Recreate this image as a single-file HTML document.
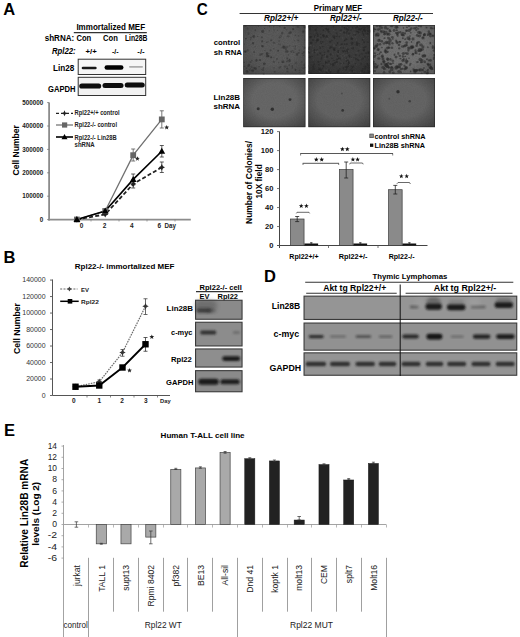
<!DOCTYPE html>
<html><head><meta charset="utf-8"><style>
html,body{margin:0;padding:0;background:#fff;width:520px;height:637px;overflow:hidden}
svg{display:block;font-family:"Liberation Sans",sans-serif}
</style></head><body>
<svg width="520" height="637" viewBox="0 0 520 637">
<defs>
<radialGradient id="vig" cx="0.5" cy="0.45" r="0.7"><stop offset="0.5" stop-color="#000" stop-opacity="0"/><stop offset="1" stop-color="#000" stop-opacity="0.6"/></radialGradient>
<filter id="noise" x="0" y="0" width="100%" height="100%"><feTurbulence type="fractalNoise" baseFrequency="0.9" numOctaves="2" seed="3"/><feColorMatrix type="matrix" values="0 0 0 0 0  0 0 0 0 0  0 0 0 0 0  1.5 0 0 0 -0.5"/></filter>
<filter id="b1" x="-50%" y="-50%" width="200%" height="200%"><feGaussianBlur stdDeviation="0.1"/></filter><filter id="b2" x="-50%" y="-50%" width="200%" height="200%"><feGaussianBlur stdDeviation="0.2"/></filter><filter id="b3" x="-50%" y="-50%" width="200%" height="200%"><feGaussianBlur stdDeviation="0.3"/></filter><filter id="b4" x="-50%" y="-50%" width="200%" height="200%"><feGaussianBlur stdDeviation="0.4"/></filter><filter id="b5" x="-50%" y="-50%" width="200%" height="200%"><feGaussianBlur stdDeviation="0.5"/></filter><filter id="b6" x="-50%" y="-50%" width="200%" height="200%"><feGaussianBlur stdDeviation="0.6"/></filter><filter id="b7" x="-50%" y="-50%" width="200%" height="200%"><feGaussianBlur stdDeviation="0.7"/></filter><filter id="b8" x="-50%" y="-50%" width="200%" height="200%"><feGaussianBlur stdDeviation="0.8"/></filter><filter id="b9" x="-50%" y="-50%" width="200%" height="200%"><feGaussianBlur stdDeviation="0.9"/></filter><filter id="b10" x="-50%" y="-50%" width="200%" height="200%"><feGaussianBlur stdDeviation="1.0"/></filter><filter id="b11" x="-50%" y="-50%" width="200%" height="200%"><feGaussianBlur stdDeviation="1.1"/></filter><filter id="b12" x="-50%" y="-50%" width="200%" height="200%"><feGaussianBlur stdDeviation="1.2"/></filter><filter id="b13" x="-50%" y="-50%" width="200%" height="200%"><feGaussianBlur stdDeviation="1.3"/></filter><filter id="b14" x="-50%" y="-50%" width="200%" height="200%"><feGaussianBlur stdDeviation="1.4"/></filter><filter id="b15" x="-50%" y="-50%" width="200%" height="200%"><feGaussianBlur stdDeviation="1.5"/></filter><filter id="b16" x="-50%" y="-50%" width="200%" height="200%"><feGaussianBlur stdDeviation="1.6"/></filter><filter id="b17" x="-50%" y="-50%" width="200%" height="200%"><feGaussianBlur stdDeviation="1.7"/></filter><filter id="b18" x="-50%" y="-50%" width="200%" height="200%"><feGaussianBlur stdDeviation="1.8"/></filter><filter id="b19" x="-50%" y="-50%" width="200%" height="200%"><feGaussianBlur stdDeviation="1.9"/></filter><filter id="b20" x="-50%" y="-50%" width="200%" height="200%"><feGaussianBlur stdDeviation="2.0"/></filter><filter id="b21" x="-50%" y="-50%" width="200%" height="200%"><feGaussianBlur stdDeviation="2.1"/></filter><filter id="b22" x="-50%" y="-50%" width="200%" height="200%"><feGaussianBlur stdDeviation="2.2"/></filter><filter id="b23" x="-50%" y="-50%" width="200%" height="200%"><feGaussianBlur stdDeviation="2.3"/></filter><filter id="b24" x="-50%" y="-50%" width="200%" height="200%"><feGaussianBlur stdDeviation="2.4"/></filter><filter id="b25" x="-50%" y="-50%" width="200%" height="200%"><feGaussianBlur stdDeviation="2.5"/></filter><filter id="b26" x="-50%" y="-50%" width="200%" height="200%"><feGaussianBlur stdDeviation="2.6"/></filter><filter id="b27" x="-50%" y="-50%" width="200%" height="200%"><feGaussianBlur stdDeviation="2.7"/></filter><filter id="b28" x="-50%" y="-50%" width="200%" height="200%"><feGaussianBlur stdDeviation="2.8"/></filter><filter id="b29" x="-50%" y="-50%" width="200%" height="200%"><feGaussianBlur stdDeviation="2.9"/></filter><filter id="b30" x="-50%" y="-50%" width="200%" height="200%"><feGaussianBlur stdDeviation="3.0"/></filter>
</defs>
<text x="3.2" y="14.9" font-size="16.5" font-weight="bold" text-anchor="start" fill="#000" >A</text>
<text x="76.4" y="29.8" font-size="8.2" font-weight="bold" text-anchor="start" fill="#000" textLength="68.7" lengthAdjust="spacingAndGlyphs" >Immortalized MEF</text>
<line x1="73.8" y1="32.6" x2="146.8" y2="32.6" stroke="#333" stroke-width="1.2" />
<text x="44.7" y="41.4" font-size="8.2" font-weight="bold" text-anchor="start" fill="#000" textLength="29.6" lengthAdjust="spacingAndGlyphs" >shRNA:</text>
<text x="76.4" y="41.4" font-size="8.2" font-weight="bold" text-anchor="start" fill="#000" textLength="14.8" lengthAdjust="spacingAndGlyphs" >Con</text>
<text x="103" y="41.4" font-size="8.2" font-weight="bold" text-anchor="start" fill="#000" textLength="14.8" lengthAdjust="spacingAndGlyphs" >Con</text>
<text x="125" y="41.4" font-size="8.2" font-weight="bold" text-anchor="start" fill="#000" textLength="22.5" lengthAdjust="spacingAndGlyphs" >Lin28B</text>
<text x="52" y="54.2" font-size="8.2" font-weight="bold" text-anchor="start" fill="#000" font-style="italic" textLength="23.7" lengthAdjust="spacingAndGlyphs" >Rpl22:</text>
<text x="85.5" y="53.8" font-size="7.5" font-weight="bold" text-anchor="start" fill="#000" textLength="11.2" lengthAdjust="spacingAndGlyphs" >+/+</text>
<text x="112" y="53.8" font-size="7.5" font-weight="bold" text-anchor="start" fill="#000" textLength="6.7" lengthAdjust="spacingAndGlyphs" >-/-</text>
<text x="137.3" y="53.8" font-size="7.5" font-weight="bold" text-anchor="start" fill="#000" textLength="7.4" lengthAdjust="spacingAndGlyphs" >-/-</text>
<rect x="78.2" y="59.2" width="67.5" height="15.3" fill="#f6f6f6" stroke="#333" stroke-width="1" />
<rect x="81.70" y="66.70" width="15" height="2.6" rx="1.30" fill="#111" opacity="0.95" filter="url(#b5)"/>
<rect x="104.50" y="65.20" width="19" height="4.6" rx="2.30" fill="#000" opacity="1" filter="url(#b6)"/>
<rect x="129.00" y="65.90" width="14" height="1.8" rx="0.90" fill="#666" opacity="0.5" filter="url(#b6)"/>
<rect x="78.2" y="77.3" width="67.5" height="18.2" fill="#f2f2f2" stroke="#333" stroke-width="1" />
<rect x="79.20" y="83.40" width="22" height="5.2" rx="2.60" fill="#0a0a0a" opacity="1" filter="url(#b5)"/>
<rect x="102.50" y="83.10" width="21" height="5" rx="2.50" fill="#0a0a0a" opacity="1" filter="url(#b5)"/>
<rect x="124.70" y="82.50" width="20" height="5" rx="2.50" fill="#0a0a0a" opacity="1" filter="url(#b5)"/>
<text x="53" y="71.2" font-size="8.2" font-weight="bold" text-anchor="start" fill="#000" textLength="21.3" lengthAdjust="spacingAndGlyphs" >Lin28</text>
<text x="48" y="91.9" font-size="8.2" font-weight="bold" text-anchor="start" fill="#000" textLength="27.5" lengthAdjust="spacingAndGlyphs" >GAPDH</text>
<line x1="49.1" y1="102.5" x2="49.1" y2="220.5" stroke="#8c8c8c" stroke-width="1.8" />
<line x1="48.2" y1="219.6" x2="190.8" y2="219.6" stroke="#8c8c8c" stroke-width="1.8" />
<line x1="47.1" y1="219.6" x2="49.1" y2="219.6" stroke="#777" stroke-width="0.8" />
<text x="43.3" y="221.79999999999998" font-size="6.3" font-weight="bold" text-anchor="end" fill="#222" >0</text>
<line x1="47.1" y1="196.2" x2="49.1" y2="196.2" stroke="#777" stroke-width="0.8" />
<text x="43.3" y="198.39999999999998" font-size="6.3" font-weight="bold" text-anchor="end" fill="#222" >100000</text>
<line x1="47.1" y1="172.8" x2="49.1" y2="172.8" stroke="#777" stroke-width="0.8" />
<text x="43.3" y="175.0" font-size="6.3" font-weight="bold" text-anchor="end" fill="#222" >200000</text>
<line x1="47.1" y1="149.4" x2="49.1" y2="149.4" stroke="#777" stroke-width="0.8" />
<text x="43.3" y="151.6" font-size="6.3" font-weight="bold" text-anchor="end" fill="#222" >300000</text>
<line x1="47.1" y1="126.0" x2="49.1" y2="126.0" stroke="#777" stroke-width="0.8" />
<text x="43.3" y="128.2" font-size="6.3" font-weight="bold" text-anchor="end" fill="#222" >400000</text>
<line x1="47.1" y1="102.6" x2="49.1" y2="102.6" stroke="#777" stroke-width="0.8" />
<text x="43.3" y="104.8" font-size="6.3" font-weight="bold" text-anchor="end" fill="#222" >500000</text>
<line x1="91" y1="219.6" x2="91" y2="221.6" stroke="#777" stroke-width="0.6" />
<line x1="119" y1="219.6" x2="119" y2="221.6" stroke="#777" stroke-width="0.6" />
<line x1="147" y1="219.6" x2="147" y2="221.6" stroke="#777" stroke-width="0.6" />
<line x1="175" y1="219.6" x2="175" y2="221.6" stroke="#777" stroke-width="0.6" />
<text x="81.5" y="228.2" font-size="6.5" font-weight="bold" text-anchor="middle" fill="#222" >0</text>
<text x="104.6" y="228.2" font-size="6.5" font-weight="bold" text-anchor="middle" fill="#222" >2</text>
<text x="131.7" y="228.2" font-size="6.5" font-weight="bold" text-anchor="middle" fill="#222" >4</text>
<text x="159.4" y="228.2" font-size="6.5" font-weight="bold" text-anchor="middle" fill="#222" >6</text>
<text x="164.6" y="228.2" font-size="6.5" font-weight="bold" text-anchor="start" fill="#222" textLength="11.4" lengthAdjust="spacingAndGlyphs" >Day</text>
<text x="19.2" y="150.3" font-size="9.6" font-weight="bold" text-anchor="middle" fill="#000" textLength="50.5" lengthAdjust="spacingAndGlyphs" transform="rotate(-90 19.2 150.3)" >Cell Number</text>
<line x1="161.8" y1="110.8" x2="161.8" y2="128" stroke="#555" stroke-width="0.8" />
<line x1="159.8" y1="110.8" x2="163.8" y2="110.8" stroke="#555" stroke-width="0.8" />
<line x1="159.8" y1="128" x2="163.8" y2="128" stroke="#555" stroke-width="0.8" />
<line x1="133.2" y1="149" x2="133.2" y2="161" stroke="#555" stroke-width="0.8" />
<line x1="131.2" y1="149" x2="135.2" y2="149" stroke="#555" stroke-width="0.8" />
<line x1="131.2" y1="161" x2="135.2" y2="161" stroke="#555" stroke-width="0.8" />
<line x1="161.8" y1="145.5" x2="161.8" y2="157" stroke="#333" stroke-width="0.8" />
<line x1="159.8" y1="145.5" x2="163.8" y2="145.5" stroke="#333" stroke-width="0.8" />
<line x1="159.8" y1="157" x2="163.8" y2="157" stroke="#333" stroke-width="0.8" />
<line x1="133.2" y1="174" x2="133.2" y2="185" stroke="#333" stroke-width="0.8" />
<line x1="131.2" y1="174" x2="135.2" y2="174" stroke="#333" stroke-width="0.8" />
<line x1="131.2" y1="185" x2="135.2" y2="185" stroke="#333" stroke-width="0.8" />
<line x1="161.8" y1="162" x2="161.8" y2="172.5" stroke="#333" stroke-width="0.8" />
<line x1="159.8" y1="162" x2="163.8" y2="162" stroke="#333" stroke-width="0.8" />
<line x1="159.8" y1="172.5" x2="163.8" y2="172.5" stroke="#333" stroke-width="0.8" />
<line x1="133.2" y1="180" x2="133.2" y2="188" stroke="#333" stroke-width="0.8" />
<line x1="131.2" y1="180" x2="135.2" y2="180" stroke="#333" stroke-width="0.8" />
<line x1="131.2" y1="188" x2="135.2" y2="188" stroke="#333" stroke-width="0.8" />
<polyline points="76.9,219.5 105.2,214.4 133.2,184 161.8,167.3" fill="none" stroke="#222" stroke-width="1.8" stroke-dasharray="4,2.2"/>
<polyline points="76.9,219.5 105.2,211 133.2,155.2 161.8,119.4" fill="none" stroke="#707070" stroke-width="1.3" />
<polyline points="76.9,219.5 105.2,211 133.2,179.4 161.8,151.2" fill="none" stroke="#000" stroke-width="1.6" />
<polygon points="76.9,216.3 78.0,218.4 80.10000000000001,219.5 78.0,220.6 76.9,222.7 75.80000000000001,220.6 73.7,219.5 75.80000000000001,218.4" fill="#222"/>
<polygon points="105.2,211.20000000000002 106.3,213.3 108.4,214.4 106.3,215.5 105.2,217.6 104.10000000000001,215.5 102.0,214.4 104.10000000000001,213.3" fill="#222"/>
<polygon points="133.2,180.8 134.29999999999998,182.9 136.39999999999998,184 134.29999999999998,185.1 133.2,187.2 132.1,185.1 130.0,184 132.1,182.9" fill="#222"/>
<polygon points="161.8,164.10000000000002 162.9,166.20000000000002 165.0,167.3 162.9,168.4 161.8,170.5 160.70000000000002,168.4 158.60000000000002,167.3 160.70000000000002,166.20000000000002" fill="#222"/>
<rect x="74.0" y="216.6" width="5.8" height="5.8" fill="#666" stroke="none" stroke-width="1" />
<rect x="102.3" y="208.1" width="5.8" height="5.8" fill="#666" stroke="none" stroke-width="1" />
<rect x="130.29999999999998" y="152.29999999999998" width="5.8" height="5.8" fill="#666" stroke="none" stroke-width="1" />
<rect x="158.9" y="116.5" width="5.8" height="5.8" fill="#666" stroke="none" stroke-width="1" />
<polygon points="76.9,216.1 80.30000000000001,222.1 73.5,222.1" fill="#000"/>
<polygon points="105.2,207.6 108.60000000000001,213.6 101.8,213.6" fill="#000"/>
<polygon points="133.2,176.0 136.6,182.0 129.79999999999998,182.0" fill="#000"/>
<polygon points="161.8,147.79999999999998 165.20000000000002,153.79999999999998 158.4,153.79999999999998" fill="#000"/>
<polygon points="166.70,124.90 167.34,126.62 169.17,126.70 167.74,127.84 168.23,129.60 166.70,128.59 165.17,129.60 165.66,127.84 164.23,126.70 166.06,126.62" fill="#222"/>
<polygon points="137.40,156.20 138.02,157.85 139.78,157.93 138.40,159.02 138.87,160.72 137.40,159.75 135.93,160.72 136.40,159.02 135.02,157.93 136.78,157.85" fill="#222"/>
<line x1="56" y1="113.3" x2="73" y2="113.3" stroke="#222" stroke-width="1.2" stroke-dasharray="3,2"/>
<polygon points="64.5,110.3 65.4,112.4 67.5,113.3 65.4,114.2 64.5,116.3 63.6,114.2 61.5,113.3 63.6,112.4" fill="#222"/>
<text x="74.6" y="115" font-size="6.6" font-weight="bold" text-anchor="start" fill="#222" textLength="45" lengthAdjust="spacingAndGlyphs" >Rpl22+/+ control</text>
<line x1="56" y1="125" x2="73" y2="125" stroke="#777" stroke-width="1.3" />
<rect x="62" y="122.4" width="5.2" height="5.2" fill="#666" stroke="none" stroke-width="1" />
<text x="74.6" y="127.3" font-size="6.6" font-weight="bold" text-anchor="start" fill="#222" textLength="42.4" lengthAdjust="spacingAndGlyphs" >Rpl22-/- control</text>
<line x1="56" y1="137" x2="73" y2="137" stroke="#000" stroke-width="1.6" />
<polygon points="64.5,134 67.5,139.2 61.5,139.2" fill="#000"/>
<text x="74.6" y="139.6" font-size="6.6" font-weight="bold" text-anchor="start" fill="#222" textLength="42" lengthAdjust="spacingAndGlyphs" >Rpl22-/- Lin28B</text>
<text x="74.6" y="147.3" font-size="6.6" font-weight="bold" text-anchor="start" fill="#222" textLength="20" lengthAdjust="spacingAndGlyphs" >shRNA</text>
<text x="3.5" y="263.4" font-size="16.5" font-weight="bold" text-anchor="start" fill="#000" >B</text>
<text x="74.8" y="269" font-size="7.8" font-weight="bold" text-anchor="start" fill="#000" textLength="99.6" lengthAdjust="spacingAndGlyphs" >Rpl22-/- immortalized MEF</text>
<line x1="52.5" y1="279.5" x2="52.5" y2="395.5" stroke="#555" stroke-width="1" />
<line x1="52.5" y1="395.5" x2="170" y2="395.5" stroke="#555" stroke-width="1" />
<line x1="50.0" y1="395.5" x2="52.5" y2="395.5" stroke="#555" stroke-width="0.9" />
<text x="45.6" y="397.7" font-size="6.4" font-weight="normal" text-anchor="end" fill="#333" textLength="3.87" lengthAdjust="spacingAndGlyphs" >0</text>
<line x1="50.0" y1="379.01" x2="52.5" y2="379.01" stroke="#555" stroke-width="0.9" />
<text x="45.6" y="381.21" font-size="6.4" font-weight="normal" text-anchor="end" fill="#333" textLength="19.35" lengthAdjust="spacingAndGlyphs" >20000</text>
<line x1="50.0" y1="362.52" x2="52.5" y2="362.52" stroke="#555" stroke-width="0.9" />
<text x="45.6" y="364.71999999999997" font-size="6.4" font-weight="normal" text-anchor="end" fill="#333" textLength="19.35" lengthAdjust="spacingAndGlyphs" >40000</text>
<line x1="50.0" y1="346.03" x2="52.5" y2="346.03" stroke="#555" stroke-width="0.9" />
<text x="45.6" y="348.22999999999996" font-size="6.4" font-weight="normal" text-anchor="end" fill="#333" textLength="19.35" lengthAdjust="spacingAndGlyphs" >60000</text>
<line x1="50.0" y1="329.54" x2="52.5" y2="329.54" stroke="#555" stroke-width="0.9" />
<text x="45.6" y="331.74" font-size="6.4" font-weight="normal" text-anchor="end" fill="#333" textLength="19.35" lengthAdjust="spacingAndGlyphs" >80000</text>
<line x1="50.0" y1="313.05" x2="52.5" y2="313.05" stroke="#555" stroke-width="0.9" />
<text x="45.6" y="315.25" font-size="6.4" font-weight="normal" text-anchor="end" fill="#333" textLength="23.22" lengthAdjust="spacingAndGlyphs" >100000</text>
<line x1="50.0" y1="296.56" x2="52.5" y2="296.56" stroke="#555" stroke-width="0.9" />
<text x="45.6" y="298.76" font-size="6.4" font-weight="normal" text-anchor="end" fill="#333" textLength="23.22" lengthAdjust="spacingAndGlyphs" >120000</text>
<line x1="50.0" y1="280.07" x2="52.5" y2="280.07" stroke="#555" stroke-width="0.9" />
<text x="45.6" y="282.27" font-size="6.4" font-weight="normal" text-anchor="end" fill="#333" textLength="23.22" lengthAdjust="spacingAndGlyphs" >140000</text>
<line x1="87" y1="395.5" x2="87" y2="397.5" stroke="#555" stroke-width="0.7" />
<line x1="110.5" y1="395.5" x2="110.5" y2="397.5" stroke="#555" stroke-width="0.7" />
<line x1="134" y1="395.5" x2="134" y2="397.5" stroke="#555" stroke-width="0.7" />
<line x1="157.5" y1="395.5" x2="157.5" y2="397.5" stroke="#555" stroke-width="0.7" />
<text x="73.9" y="402.6" font-size="6.5" font-weight="bold" text-anchor="middle" fill="#222" >0</text>
<text x="99.2" y="402.6" font-size="6.5" font-weight="bold" text-anchor="middle" fill="#222" >1</text>
<text x="122.1" y="402.6" font-size="6.5" font-weight="bold" text-anchor="middle" fill="#222" >2</text>
<text x="145.8" y="402.6" font-size="6.5" font-weight="bold" text-anchor="middle" fill="#222" >3</text>
<text x="160" y="402.6" font-size="6.2" font-weight="bold" text-anchor="start" fill="#222" textLength="10.6" lengthAdjust="spacingAndGlyphs" >Day</text>
<text x="20.5" y="328.6" font-size="9.2" font-weight="bold" text-anchor="middle" fill="#000" textLength="50.8" lengthAdjust="spacingAndGlyphs" transform="rotate(-90 20.5 328.6)" >Cell Number</text>
<line x1="145.5" y1="298.75" x2="145.5" y2="314.5" stroke="#444" stroke-width="0.8" />
<line x1="143.5" y1="298.75" x2="147.5" y2="298.75" stroke="#444" stroke-width="0.8" />
<line x1="143.5" y1="314.5" x2="147.5" y2="314.5" stroke="#444" stroke-width="0.8" />
<line x1="122.5" y1="349.5" x2="122.5" y2="356.25" stroke="#444" stroke-width="0.8" />
<line x1="120.5" y1="349.5" x2="124.5" y2="349.5" stroke="#444" stroke-width="0.8" />
<line x1="120.5" y1="356.25" x2="124.5" y2="356.25" stroke="#444" stroke-width="0.8" />
<line x1="145.5" y1="337.5" x2="145.5" y2="351.25" stroke="#333" stroke-width="0.8" />
<line x1="143.5" y1="337.5" x2="147.5" y2="337.5" stroke="#333" stroke-width="0.8" />
<line x1="143.5" y1="351.25" x2="147.5" y2="351.25" stroke="#333" stroke-width="0.8" />
<line x1="99.25" y1="380" x2="99.25" y2="383.5" stroke="#666" stroke-width="0.8" />
<line x1="97.25" y1="380" x2="101.25" y2="380" stroke="#666" stroke-width="0.8" />
<line x1="97.25" y1="383.5" x2="101.25" y2="383.5" stroke="#666" stroke-width="0.8" />
<polyline points="75.5,386.75 99.25,381.75 122.5,352.5 145.5,306.25" fill="none" stroke="#6a6a6a" stroke-width="1.2" stroke-dasharray="1.6,1"/>
<polyline points="75.5,386.75 99.25,385.5 122.5,367.5 145.5,344.25" fill="none" stroke="#000" stroke-width="1.8" />
<polygon points="75.5,383.55 76.6,385.65 78.7,386.75 76.6,387.85 75.5,389.95 74.4,387.85 72.3,386.75 74.4,385.65" fill="#333"/>
<polygon points="99.25,378.55 100.35,380.65 102.45,381.75 100.35,382.85 99.25,384.95 98.15,382.85 96.05,381.75 98.15,380.65" fill="#333"/>
<polygon points="122.5,349.3 123.6,351.4 125.7,352.5 123.6,353.6 122.5,355.7 121.4,353.6 119.3,352.5 121.4,351.4" fill="#333"/>
<polygon points="145.5,303.05 146.6,305.15 148.7,306.25 146.6,307.35 145.5,309.45 144.4,307.35 142.3,306.25 144.4,305.15" fill="#333"/>
<rect x="72.3" y="383.55" width="6.4" height="6.4" fill="#000" stroke="none" stroke-width="1" />
<rect x="96.05" y="382.3" width="6.4" height="6.4" fill="#000" stroke="none" stroke-width="1" />
<rect x="119.3" y="364.3" width="6.4" height="6.4" fill="#000" stroke="none" stroke-width="1" />
<rect x="142.3" y="341.05" width="6.4" height="6.4" fill="#000" stroke="none" stroke-width="1" />
<polygon points="151.80,334.40 152.44,336.12 154.27,336.20 152.84,337.34 153.33,339.10 151.80,338.09 150.27,339.10 150.76,337.34 149.33,336.20 151.16,336.12" fill="#222"/>
<polygon points="129.50,367.90 130.14,369.62 131.97,369.70 130.54,370.84 131.03,372.60 129.50,371.59 127.97,372.60 128.46,370.84 127.03,369.70 128.86,369.62" fill="#222"/>
<line x1="60.2" y1="289" x2="77.5" y2="289" stroke="#666" stroke-width="1.0" stroke-dasharray="2,1.3"/>
<polygon points="69.4,286.6 70.3,288.1 71.8,289 70.3,289.9 69.4,291.4 68.5,289.9 67,289 68.5,288.1" fill="#444"/>
<text x="81" y="291.9" font-size="6.2" font-weight="bold" text-anchor="start" fill="#222" textLength="8" lengthAdjust="spacingAndGlyphs" >EV</text>
<line x1="60.2" y1="301.3" x2="78.7" y2="301.3" stroke="#000" stroke-width="1.5" />
<rect x="67.7" y="299" width="4.6" height="4.6" fill="#000" stroke="none" stroke-width="1" />
<text x="81" y="303.8" font-size="6.1" font-weight="bold" text-anchor="start" fill="#222" textLength="17.8" lengthAdjust="spacingAndGlyphs" >Rpl22</text>
<text x="199.6" y="290.2" font-size="7.6" font-weight="bold" text-anchor="start" fill="#000" textLength="42.2" lengthAdjust="spacingAndGlyphs" >Rpl22-/- cell</text>
<line x1="196" y1="291.6" x2="243" y2="291.6" stroke="#333" stroke-width="1.3" />
<text x="199.6" y="299" font-size="7.6" font-weight="bold" text-anchor="start" fill="#000" textLength="9.9" lengthAdjust="spacingAndGlyphs" >EV</text>
<text x="217.6" y="299" font-size="7.6" font-weight="bold" text-anchor="start" fill="#000" textLength="20.4" lengthAdjust="spacingAndGlyphs" >Rpl22</text>
<rect x="195.55" y="300.25" width="46.5" height="19.0" fill="#8a8a8a" stroke="#3a3a3a" stroke-width="1.1" />
<rect x="195.00" y="300.00" width="22" height="11" rx="5.50" fill="#3a3a3a" opacity="0.35" filter="url(#b20)"/>
<rect x="196.50" y="308.40" width="15" height="4.2" rx="2.10" fill="#1e1e1e" opacity="0.75" filter="url(#b15)"/>
<rect x="206.00" y="309.05" width="10" height="3.5" rx="1.75" fill="#333" opacity="0.35" filter="url(#b15)"/>
<rect x="195.55" y="322.25" width="46.5" height="23.7" fill="#8c8c8c" stroke="#3a3a3a" stroke-width="1.1" />
<rect x="200.20" y="330.40" width="16" height="4" rx="2.00" fill="#222" opacity="0.85" filter="url(#b9)"/>
<rect x="232.90" y="330.90" width="7" height="3" rx="1.50" fill="#444" opacity="0.4" filter="url(#b12)"/>
<rect x="195.55" y="348.95" width="46.5" height="18.099999999999998" fill="#8e8e8e" stroke="#3a3a3a" stroke-width="1.1" />
<rect x="222.20" y="356.25" width="18" height="4.7" rx="2.35" fill="#151515" opacity="0.95" filter="url(#b8)"/>
<rect x="195.55" y="370.65000000000003" width="46.5" height="21.099999999999998" fill="#8a8a8a" stroke="#3a3a3a" stroke-width="1.1" />
<rect x="198.25" y="378.80" width="20.5" height="6" rx="3.00" fill="#131313" opacity="0.95" filter="url(#b8)"/>
<rect x="220.30" y="379.30" width="19.4" height="5" rx="2.50" fill="#181818" opacity="0.92" filter="url(#b8)"/>
<text x="166.6" y="310.8" font-size="7.6" font-weight="bold" text-anchor="start" fill="#000" textLength="26.4" lengthAdjust="spacingAndGlyphs" >Lin28B</text>
<text x="171" y="335.3" font-size="7.6" font-weight="bold" text-anchor="start" fill="#000" textLength="21.5" lengthAdjust="spacingAndGlyphs" >c-myc</text>
<text x="171" y="362.1" font-size="7.6" font-weight="bold" text-anchor="start" fill="#000" textLength="20.9" lengthAdjust="spacingAndGlyphs" >Rpl22</text>
<text x="166" y="384.8" font-size="7.6" font-weight="bold" text-anchor="start" fill="#000" textLength="27.4" lengthAdjust="spacingAndGlyphs" >GAPDH</text>
<text x="196.8" y="14.7" font-size="16.5" font-weight="bold" text-anchor="start" fill="#000" textLength="11" lengthAdjust="spacingAndGlyphs" >C</text>
<text x="313.8" y="10.8" font-size="8.5" font-weight="bold" text-anchor="start" fill="#000" textLength="48.4" lengthAdjust="spacingAndGlyphs" >Primary MEF</text>
<line x1="239.6" y1="13.5" x2="433" y2="13.5" stroke="#333" stroke-width="1.1" />
<text x="264" y="20.9" font-size="8.2" font-weight="bold" text-anchor="start" fill="#000" font-style="italic" textLength="34.3" lengthAdjust="spacingAndGlyphs" >Rpl22+/+</text>
<text x="330" y="20.9" font-size="8.2" font-weight="bold" text-anchor="start" fill="#000" font-style="italic" textLength="31.8" lengthAdjust="spacingAndGlyphs" >Rpl22+/-</text>
<text x="392.9" y="20.9" font-size="8.2" font-weight="bold" text-anchor="start" fill="#000" font-style="italic" textLength="29.7" lengthAdjust="spacingAndGlyphs" >Rpl22-/-</text>
<text x="213.75" y="45.4" font-size="7.9" font-weight="bold" text-anchor="start" fill="#000" textLength="26.3" lengthAdjust="spacingAndGlyphs" >control</text>
<text x="213.75" y="54.8" font-size="7.9" font-weight="bold" text-anchor="start" fill="#000" textLength="28.2" lengthAdjust="spacingAndGlyphs" >sh RNA</text>
<text x="213.5" y="100.2" font-size="7.9" font-weight="bold" text-anchor="start" fill="#000" textLength="26.5" lengthAdjust="spacingAndGlyphs" >Lin28B</text>
<text x="213.5" y="109.2" font-size="7.9" font-weight="bold" text-anchor="start" fill="#000" textLength="26.5" lengthAdjust="spacingAndGlyphs" >shRNA</text>
<clipPath id="clip1"><rect x="243.2" y="25" width="62.3" height="49.5"/></clipPath>
<g clip-path="url(#clip1)">
<rect x="243.2" y="25" width="62.3" height="49.5" fill="#5a5a5a" stroke="none" stroke-width="1" />
<rect x="243.2" y="25" width="62.3" height="49.5" fill="url(#vig)" opacity="0.35"/>
<ellipse cx="251.6" cy="66.9" rx="0.95" ry="1.06" fill="#363636" opacity="0.5" filter="url(#b6)"/>
<ellipse cx="271.2" cy="57.3" rx="0.90" ry="0.87" fill="#363636" opacity="0.5" filter="url(#b6)"/>
<ellipse cx="295.3" cy="46.4" rx="0.85" ry="1.03" fill="#363636" opacity="0.5" filter="url(#b6)"/>
<ellipse cx="288.2" cy="36.3" rx="1.35" ry="0.95" fill="#363636" opacity="0.5" filter="url(#b6)"/>
<ellipse cx="244.8" cy="51.8" rx="1.11" ry="1.03" fill="#363636" opacity="0.5" filter="url(#b6)"/>
<ellipse cx="269.5" cy="26.4" rx="0.71" ry="0.73" fill="#363636" opacity="0.5" filter="url(#b6)"/>
<ellipse cx="257.7" cy="36.4" rx="0.72" ry="0.67" fill="#363636" opacity="0.5" filter="url(#b6)"/>
<ellipse cx="244.5" cy="66.5" rx="0.99" ry="0.82" fill="#363636" opacity="0.5" filter="url(#b6)"/>
<ellipse cx="305.0" cy="67.6" rx="0.63" ry="0.73" fill="#363636" opacity="0.5" filter="url(#b6)"/>
<ellipse cx="287.5" cy="71.4" rx="0.97" ry="0.91" fill="#363636" opacity="0.5" filter="url(#b6)"/>
<ellipse cx="262.1" cy="54.1" rx="1.29" ry="1.13" fill="#363636" opacity="0.5" filter="url(#b6)"/>
<ellipse cx="279.9" cy="26.7" rx="0.83" ry="0.72" fill="#363636" opacity="0.5" filter="url(#b6)"/>
<ellipse cx="254.0" cy="52.2" rx="1.09" ry="0.97" fill="#363636" opacity="0.5" filter="url(#b6)"/>
<ellipse cx="270.5" cy="50.2" rx="1.08" ry="1.02" fill="#363636" opacity="0.5" filter="url(#b6)"/>
<ellipse cx="273.7" cy="26.5" rx="0.68" ry="0.75" fill="#363636" opacity="0.5" filter="url(#b6)"/>
<ellipse cx="280.2" cy="44.5" rx="0.70" ry="0.84" fill="#363636" opacity="0.5" filter="url(#b6)"/>
<ellipse cx="291.2" cy="51.7" rx="1.00" ry="1.12" fill="#363636" opacity="0.5" filter="url(#b6)"/>
<ellipse cx="302.5" cy="53.6" rx="0.79" ry="0.89" fill="#363636" opacity="0.5" filter="url(#b6)"/>
<ellipse cx="302.8" cy="25.3" rx="1.21" ry="1.24" fill="#363636" opacity="0.5" filter="url(#b6)"/>
<ellipse cx="289.3" cy="65.1" rx="0.93" ry="0.88" fill="#363636" opacity="0.5" filter="url(#b6)"/>
<ellipse cx="246.7" cy="68.1" rx="0.83" ry="0.94" fill="#363636" opacity="0.5" filter="url(#b6)"/>
<ellipse cx="273.4" cy="42.7" rx="0.82" ry="0.85" fill="#363636" opacity="0.5" filter="url(#b6)"/>
<ellipse cx="281.4" cy="47.7" rx="0.55" ry="0.54" fill="#363636" opacity="0.5" filter="url(#b6)"/>
<ellipse cx="279.6" cy="67.6" rx="1.21" ry="1.22" fill="#363636" opacity="0.5" filter="url(#b6)"/>
<ellipse cx="259.1" cy="66.7" rx="0.84" ry="0.81" fill="#363636" opacity="0.5" filter="url(#b6)"/>
<ellipse cx="244.1" cy="62.4" rx="0.63" ry="0.79" fill="#363636" opacity="0.5" filter="url(#b6)"/>
<ellipse cx="264.7" cy="28.4" rx="0.70" ry="0.60" fill="#363636" opacity="0.5" filter="url(#b6)"/>
<ellipse cx="260.2" cy="60.2" rx="0.81" ry="0.86" fill="#363636" opacity="0.5" filter="url(#b6)"/>
<ellipse cx="244.7" cy="44.1" rx="0.75" ry="0.72" fill="#363636" opacity="0.5" filter="url(#b6)"/>
<ellipse cx="299.3" cy="50.3" rx="0.76" ry="0.82" fill="#363636" opacity="0.5" filter="url(#b6)"/>
<ellipse cx="244.5" cy="25.9" rx="0.75" ry="0.59" fill="#363636" opacity="0.5" filter="url(#b6)"/>
<ellipse cx="287.1" cy="58.6" rx="0.82" ry="1.10" fill="#363636" opacity="0.5" filter="url(#b6)"/>
<ellipse cx="292.9" cy="50.6" rx="0.78" ry="0.70" fill="#363636" opacity="0.5" filter="url(#b6)"/>
<ellipse cx="279.1" cy="40.9" rx="0.81" ry="0.90" fill="#363636" opacity="0.5" filter="url(#b6)"/>
<ellipse cx="303.5" cy="68.3" rx="0.90" ry="0.72" fill="#363636" opacity="0.5" filter="url(#b6)"/>
<ellipse cx="301.7" cy="61.8" rx="0.77" ry="0.68" fill="#363636" opacity="0.5" filter="url(#b6)"/>
<ellipse cx="297.9" cy="26.9" rx="1.29" ry="1.12" fill="#363636" opacity="0.5" filter="url(#b6)"/>
<ellipse cx="253.9" cy="68.0" rx="1.28" ry="1.19" fill="#363636" opacity="0.5" filter="url(#b6)"/>
<ellipse cx="266.7" cy="42.2" rx="0.77" ry="0.70" fill="#363636" opacity="0.5" filter="url(#b6)"/>
<ellipse cx="255.3" cy="30.2" rx="0.92" ry="1.00" fill="#363636" opacity="0.5" filter="url(#b6)"/>
<ellipse cx="263.5" cy="68.1" rx="0.92" ry="1.00" fill="#363636" opacity="0.5" filter="url(#b6)"/>
<ellipse cx="263.6" cy="73.9" rx="1.00" ry="0.95" fill="#363636" opacity="0.5" filter="url(#b6)"/>
<ellipse cx="285.2" cy="66.5" rx="1.09" ry="1.34" fill="#363636" opacity="0.5" filter="url(#b6)"/>
<ellipse cx="286.0" cy="49.0" rx="1.06" ry="1.30" fill="#363636" opacity="0.5" filter="url(#b6)"/>
<ellipse cx="248.5" cy="33.4" rx="1.01" ry="1.27" fill="#363636" opacity="0.5" filter="url(#b6)"/>
<ellipse cx="280.6" cy="66.6" rx="0.77" ry="0.75" fill="#363636" opacity="0.5" filter="url(#b6)"/>
<ellipse cx="297.2" cy="54.9" rx="1.35" ry="1.00" fill="#363636" opacity="0.5" filter="url(#b6)"/>
<ellipse cx="277.5" cy="30.2" rx="0.52" ry="0.71" fill="#363636" opacity="0.5" filter="url(#b6)"/>
<ellipse cx="292.3" cy="66.0" rx="0.84" ry="0.90" fill="#363636" opacity="0.5" filter="url(#b6)"/>
<ellipse cx="266.8" cy="53.3" rx="0.61" ry="0.67" fill="#363636" opacity="0.5" filter="url(#b6)"/>
<ellipse cx="298.7" cy="52.9" rx="1.14" ry="1.05" fill="#363636" opacity="0.5" filter="url(#b6)"/>
<ellipse cx="292.2" cy="66.0" rx="0.65" ry="0.51" fill="#363636" opacity="0.5" filter="url(#b6)"/>
<ellipse cx="250.4" cy="68.8" rx="0.56" ry="0.75" fill="#363636" opacity="0.5" filter="url(#b6)"/>
<ellipse cx="269.4" cy="30.7" rx="0.63" ry="0.77" fill="#363636" opacity="0.5" filter="url(#b6)"/>
<ellipse cx="249.6" cy="70.1" rx="0.98" ry="0.96" fill="#363636" opacity="0.5" filter="url(#b6)"/>
<ellipse cx="261.5" cy="37.5" rx="0.74" ry="0.94" fill="#363636" opacity="0.5" filter="url(#b6)"/>
<ellipse cx="245.7" cy="25.5" rx="1.09" ry="1.24" fill="#363636" opacity="0.5" filter="url(#b6)"/>
<ellipse cx="271.2" cy="40.5" rx="0.74" ry="0.76" fill="#363636" opacity="0.5" filter="url(#b6)"/>
<ellipse cx="303.6" cy="30.5" rx="0.76" ry="0.87" fill="#363636" opacity="0.5" filter="url(#b6)"/>
<ellipse cx="277.0" cy="59.1" rx="0.90" ry="1.01" fill="#363636" opacity="0.5" filter="url(#b6)"/>
<ellipse cx="262.3" cy="37.2" rx="0.59" ry="0.77" fill="#363636" opacity="0.5" filter="url(#b6)"/>
<ellipse cx="271.1" cy="57.3" rx="1.16" ry="0.94" fill="#363636" opacity="0.5" filter="url(#b6)"/>
<ellipse cx="262.3" cy="41.2" rx="0.90" ry="0.91" fill="#363636" opacity="0.5" filter="url(#b6)"/>
<ellipse cx="262.1" cy="41.5" rx="0.96" ry="0.96" fill="#363636" opacity="0.5" filter="url(#b6)"/>
<ellipse cx="258.5" cy="26.0" rx="0.62" ry="0.76" fill="#363636" opacity="0.5" filter="url(#b6)"/>
<ellipse cx="247.6" cy="28.7" rx="0.90" ry="1.10" fill="#363636" opacity="0.5" filter="url(#b6)"/>
<ellipse cx="273.9" cy="67.7" rx="0.69" ry="0.77" fill="#363636" opacity="0.5" filter="url(#b6)"/>
<ellipse cx="248.0" cy="72.0" rx="0.78" ry="0.84" fill="#363636" opacity="0.5" filter="url(#b6)"/>
<ellipse cx="294.4" cy="40.8" rx="0.67" ry="0.78" fill="#363636" opacity="0.5" filter="url(#b6)"/>
<ellipse cx="261.5" cy="69.2" rx="0.80" ry="0.56" fill="#363636" opacity="0.5" filter="url(#b6)"/>
<ellipse cx="262.9" cy="69.7" rx="1.26" ry="1.23" fill="#363636" opacity="0.5" filter="url(#b6)"/>
<ellipse cx="289.7" cy="59.1" rx="0.69" ry="0.61" fill="#363636" opacity="0.5" filter="url(#b6)"/>
<ellipse cx="287.7" cy="58.1" rx="0.62" ry="0.89" fill="#363636" opacity="0.5" filter="url(#b6)"/>
<ellipse cx="293.6" cy="52.2" rx="1.05" ry="0.91" fill="#363636" opacity="0.5" filter="url(#b6)"/>
<ellipse cx="267.9" cy="41.8" rx="0.61" ry="0.80" fill="#363636" opacity="0.5" filter="url(#b6)"/>
<ellipse cx="269.2" cy="53.2" rx="0.60" ry="0.55" fill="#363636" opacity="0.5" filter="url(#b6)"/>
<ellipse cx="251.0" cy="37.8" rx="1.05" ry="1.05" fill="#363636" opacity="0.5" filter="url(#b6)"/>
<ellipse cx="281.4" cy="36.6" rx="0.61" ry="0.60" fill="#363636" opacity="0.5" filter="url(#b6)"/>
<ellipse cx="283.6" cy="46.7" rx="1.11" ry="0.91" fill="#363636" opacity="0.5" filter="url(#b6)"/>
<ellipse cx="274.0" cy="48.7" rx="0.71" ry="0.75" fill="#363636" opacity="0.5" filter="url(#b6)"/>
<ellipse cx="299.7" cy="70.4" rx="0.81" ry="0.63" fill="#363636" opacity="0.5" filter="url(#b6)"/>
<ellipse cx="247.7" cy="50.3" rx="0.97" ry="1.25" fill="#363636" opacity="0.5" filter="url(#b6)"/>
<ellipse cx="298.2" cy="40.4" rx="1.16" ry="0.96" fill="#363636" opacity="0.5" filter="url(#b6)"/>
<ellipse cx="286.9" cy="61.5" rx="1.09" ry="1.11" fill="#363636" opacity="0.5" filter="url(#b6)"/>
<ellipse cx="303.0" cy="53.3" rx="0.64" ry="0.63" fill="#363636" opacity="0.5" filter="url(#b6)"/>
<ellipse cx="278.7" cy="62.5" rx="0.68" ry="0.69" fill="#363636" opacity="0.5" filter="url(#b6)"/>
<ellipse cx="264.9" cy="50.5" rx="0.76" ry="0.57" fill="#363636" opacity="0.5" filter="url(#b6)"/>
<ellipse cx="304.3" cy="65.0" rx="0.89" ry="1.14" fill="#363636" opacity="0.5" filter="url(#b6)"/>
<ellipse cx="303.0" cy="31.9" rx="1.21" ry="1.13" fill="#363636" opacity="0.5" filter="url(#b6)"/>
<ellipse cx="286.8" cy="47.0" rx="1.37" ry="1.10" fill="#363636" opacity="0.5" filter="url(#b6)"/>
<ellipse cx="293.2" cy="46.4" rx="0.65" ry="0.59" fill="#363636" opacity="0.5" filter="url(#b6)"/>
<ellipse cx="299.8" cy="72.5" rx="0.70" ry="0.65" fill="#363636" opacity="0.5" filter="url(#b6)"/>
<ellipse cx="250.6" cy="39.6" rx="0.82" ry="0.60" fill="#363636" opacity="0.5" filter="url(#b6)"/>
<ellipse cx="255.0" cy="46.7" rx="0.64" ry="0.64" fill="#363636" opacity="0.5" filter="url(#b6)"/>
<ellipse cx="295.2" cy="35.2" rx="0.78" ry="0.70" fill="#363636" opacity="0.5" filter="url(#b6)"/>
<ellipse cx="279.7" cy="37.4" rx="1.13" ry="1.13" fill="#363636" opacity="0.5" filter="url(#b6)"/>
<ellipse cx="303.9" cy="52.0" rx="1.02" ry="0.99" fill="#363636" opacity="0.5" filter="url(#b6)"/>
<ellipse cx="278.7" cy="44.0" rx="0.65" ry="0.87" fill="#363636" opacity="0.5" filter="url(#b6)"/>
<ellipse cx="250.6" cy="62.0" rx="1.10" ry="1.02" fill="#363636" opacity="0.5" filter="url(#b6)"/>
<ellipse cx="303.9" cy="31.8" rx="0.93" ry="0.83" fill="#363636" opacity="0.5" filter="url(#b6)"/>
<ellipse cx="274.5" cy="42.7" rx="0.73" ry="0.90" fill="#363636" opacity="0.5" filter="url(#b6)"/>
<ellipse cx="271.2" cy="40.1" rx="0.93" ry="0.90" fill="#363636" opacity="0.5" filter="url(#b6)"/>
<ellipse cx="273.9" cy="57.1" rx="0.73" ry="0.66" fill="#363636" opacity="0.5" filter="url(#b6)"/>
<ellipse cx="260.5" cy="54.6" rx="1.28" ry="1.13" fill="#363636" opacity="0.5" filter="url(#b6)"/>
<ellipse cx="304.7" cy="47.8" rx="1.06" ry="1.21" fill="#363636" opacity="0.5" filter="url(#b6)"/>
<ellipse cx="304.7" cy="40.1" rx="0.74" ry="0.71" fill="#363636" opacity="0.5" filter="url(#b6)"/>
<ellipse cx="265.6" cy="25.2" rx="0.81" ry="0.80" fill="#363636" opacity="0.5" filter="url(#b6)"/>
<ellipse cx="296.9" cy="53.9" rx="1.21" ry="1.14" fill="#363636" opacity="0.5" filter="url(#b6)"/>
<ellipse cx="273.9" cy="61.9" rx="1.04" ry="1.04" fill="#363636" opacity="0.5" filter="url(#b6)"/>
<ellipse cx="268.6" cy="56.1" rx="1.15" ry="1.09" fill="#363636" opacity="0.5" filter="url(#b6)"/>
<ellipse cx="295.9" cy="63.0" rx="1.14" ry="1.02" fill="#363636" opacity="0.5" filter="url(#b6)"/>
<ellipse cx="259.7" cy="60.0" rx="1.14" ry="0.97" fill="#363636" opacity="0.5" filter="url(#b6)"/>
<ellipse cx="295.1" cy="49.0" rx="0.72" ry="0.88" fill="#363636" opacity="0.5" filter="url(#b6)"/>
<ellipse cx="289.6" cy="45.9" rx="0.86" ry="0.66" fill="#363636" opacity="0.5" filter="url(#b6)"/>
<ellipse cx="274.8" cy="71.8" rx="0.97" ry="1.09" fill="#363636" opacity="0.5" filter="url(#b6)"/>
<ellipse cx="280.9" cy="35.3" rx="0.84" ry="0.66" fill="#363636" opacity="0.5" filter="url(#b6)"/>
<ellipse cx="247.9" cy="66.1" rx="0.87" ry="0.92" fill="#363636" opacity="0.5" filter="url(#b6)"/>
<ellipse cx="289.1" cy="33.3" rx="1.08" ry="1.12" fill="#363636" opacity="0.5" filter="url(#b6)"/>
<ellipse cx="260.0" cy="55.2" rx="0.76" ry="0.64" fill="#363636" opacity="0.5" filter="url(#b6)"/>
<ellipse cx="292.4" cy="67.9" rx="0.71" ry="0.95" fill="#363636" opacity="0.5" filter="url(#b6)"/>
<ellipse cx="287.2" cy="66.8" rx="0.72" ry="0.65" fill="#363636" opacity="0.5" filter="url(#b6)"/>
<ellipse cx="262.9" cy="46.4" rx="1.18" ry="0.93" fill="#363636" opacity="0.5" filter="url(#b6)"/>
<ellipse cx="282.2" cy="33.2" rx="1.16" ry="1.38" fill="#363636" opacity="0.5" filter="url(#b6)"/>
<ellipse cx="288.6" cy="55.0" rx="0.77" ry="0.65" fill="#363636" opacity="0.5" filter="url(#b6)"/>
<ellipse cx="251.8" cy="60.4" rx="0.90" ry="0.73" fill="#363636" opacity="0.5" filter="url(#b6)"/>
<ellipse cx="287.9" cy="60.6" rx="0.66" ry="0.75" fill="#363636" opacity="0.5" filter="url(#b6)"/>
<ellipse cx="273.9" cy="29.9" rx="0.59" ry="0.74" fill="#363636" opacity="0.5" filter="url(#b6)"/>
<ellipse cx="298.6" cy="35.7" rx="0.67" ry="0.70" fill="#363636" opacity="0.5" filter="url(#b6)"/>
<ellipse cx="303.3" cy="55.4" rx="0.91" ry="0.68" fill="#363636" opacity="0.5" filter="url(#b6)"/>
<ellipse cx="286.4" cy="29.7" rx="0.84" ry="0.80" fill="#363636" opacity="0.5" filter="url(#b6)"/>
<ellipse cx="253.7" cy="36.5" rx="1.39" ry="1.46" fill="#2a2a2a" opacity="0.55" filter="url(#b6)"/>
<ellipse cx="256.4" cy="60.4" rx="1.21" ry="1.36" fill="#2a2a2a" opacity="0.55" filter="url(#b6)"/>
<ellipse cx="305.2" cy="27.3" rx="1.60" ry="1.30" fill="#2a2a2a" opacity="0.55" filter="url(#b6)"/>
<ellipse cx="267.1" cy="53.7" rx="1.40" ry="1.68" fill="#2a2a2a" opacity="0.55" filter="url(#b6)"/>
<ellipse cx="290.5" cy="32.5" rx="1.17" ry="1.25" fill="#2a2a2a" opacity="0.55" filter="url(#b6)"/>
<ellipse cx="284.6" cy="27.8" rx="1.01" ry="1.17" fill="#2a2a2a" opacity="0.55" filter="url(#b6)"/>
<ellipse cx="295.5" cy="69.9" rx="0.84" ry="1.16" fill="#2a2a2a" opacity="0.55" filter="url(#b6)"/>
<ellipse cx="245.9" cy="38.5" rx="0.89" ry="0.86" fill="#2a2a2a" opacity="0.55" filter="url(#b6)"/>
<ellipse cx="282.9" cy="61.9" rx="1.53" ry="1.43" fill="#2a2a2a" opacity="0.55" filter="url(#b6)"/>
<ellipse cx="267.5" cy="56.2" rx="1.57" ry="1.33" fill="#2a2a2a" opacity="0.55" filter="url(#b6)"/>
<ellipse cx="246.9" cy="71.3" rx="1.22" ry="1.35" fill="#2a2a2a" opacity="0.55" filter="url(#b6)"/>
<ellipse cx="278.1" cy="50.8" rx="0.97" ry="0.99" fill="#2a2a2a" opacity="0.55" filter="url(#b6)"/>
<ellipse cx="255.6" cy="68.6" rx="1.29" ry="1.32" fill="#2a2a2a" opacity="0.55" filter="url(#b6)"/>
<ellipse cx="289.5" cy="60.7" rx="1.24" ry="1.64" fill="#2a2a2a" opacity="0.55" filter="url(#b6)"/>
<ellipse cx="252.6" cy="70.5" rx="1.63" ry="1.17" fill="#2a2a2a" opacity="0.55" filter="url(#b6)"/>
<ellipse cx="248.9" cy="65.2" rx="1.17" ry="1.47" fill="#2a2a2a" opacity="0.55" filter="url(#b6)"/>
<ellipse cx="245.7" cy="51.3" rx="1.04" ry="1.17" fill="#2a2a2a" opacity="0.55" filter="url(#b6)"/>
<ellipse cx="287.3" cy="68.7" rx="1.02" ry="0.85" fill="#2a2a2a" opacity="0.55" filter="url(#b6)"/>
<ellipse cx="293.1" cy="29.2" rx="0.97" ry="1.11" fill="#2a2a2a" opacity="0.55" filter="url(#b6)"/>
<ellipse cx="262.7" cy="31.4" rx="1.57" ry="1.60" fill="#2a2a2a" opacity="0.55" filter="url(#b6)"/>
<ellipse cx="262.1" cy="46.0" rx="1.15" ry="1.05" fill="#2a2a2a" opacity="0.55" filter="url(#b6)"/>
<ellipse cx="264.3" cy="63.8" rx="1.53" ry="1.24" fill="#2a2a2a" opacity="0.55" filter="url(#b6)"/>
<ellipse cx="283.9" cy="47.2" rx="1.63" ry="1.69" fill="#2a2a2a" opacity="0.55" filter="url(#b6)"/>
<ellipse cx="286.9" cy="51.5" rx="1.64" ry="1.33" fill="#2a2a2a" opacity="0.55" filter="url(#b6)"/>
<ellipse cx="253.0" cy="43.3" rx="1.06" ry="1.18" fill="#2a2a2a" opacity="0.55" filter="url(#b6)"/>
<rect x="243.2" y="25" width="62.3" height="49.5" filter="url(#noise)" opacity="0.12"/>
</g>
<rect x="243.6" y="25.4" width="61.5" height="48.7" fill="none" stroke="#222" stroke-width="0.8" opacity="0.7"/>
<clipPath id="clip2"><rect x="308.3" y="25" width="62" height="49"/></clipPath>
<g clip-path="url(#clip2)">
<rect x="308.3" y="25" width="62" height="49" fill="#3d3d3d" stroke="none" stroke-width="1" />
<rect x="308.3" y="25" width="62" height="49" fill="url(#vig)" opacity="0.35"/>
<ellipse cx="367.6" cy="71.4" rx="0.53" ry="0.73" fill="#262626" opacity="0.55" filter="url(#b6)"/>
<ellipse cx="353.9" cy="57.8" rx="0.85" ry="0.85" fill="#262626" opacity="0.55" filter="url(#b6)"/>
<ellipse cx="344.3" cy="32.8" rx="0.86" ry="0.98" fill="#262626" opacity="0.55" filter="url(#b6)"/>
<ellipse cx="370.0" cy="71.5" rx="0.96" ry="0.89" fill="#262626" opacity="0.55" filter="url(#b6)"/>
<ellipse cx="310.5" cy="26.3" rx="0.86" ry="0.88" fill="#262626" opacity="0.55" filter="url(#b6)"/>
<ellipse cx="363.6" cy="50.8" rx="0.89" ry="0.80" fill="#262626" opacity="0.55" filter="url(#b6)"/>
<ellipse cx="328.5" cy="31.7" rx="1.15" ry="1.02" fill="#262626" opacity="0.55" filter="url(#b6)"/>
<ellipse cx="319.6" cy="68.8" rx="1.27" ry="1.35" fill="#262626" opacity="0.55" filter="url(#b6)"/>
<ellipse cx="355.6" cy="63.7" rx="1.01" ry="1.00" fill="#262626" opacity="0.55" filter="url(#b6)"/>
<ellipse cx="318.3" cy="61.9" rx="1.08" ry="1.11" fill="#262626" opacity="0.55" filter="url(#b6)"/>
<ellipse cx="338.7" cy="70.3" rx="1.08" ry="0.90" fill="#262626" opacity="0.55" filter="url(#b6)"/>
<ellipse cx="363.0" cy="69.1" rx="0.95" ry="1.08" fill="#262626" opacity="0.55" filter="url(#b6)"/>
<ellipse cx="353.2" cy="48.8" rx="0.70" ry="0.82" fill="#262626" opacity="0.55" filter="url(#b6)"/>
<ellipse cx="318.6" cy="69.5" rx="0.92" ry="0.73" fill="#262626" opacity="0.55" filter="url(#b6)"/>
<ellipse cx="367.7" cy="59.6" rx="0.96" ry="1.01" fill="#262626" opacity="0.55" filter="url(#b6)"/>
<ellipse cx="344.8" cy="40.3" rx="0.75" ry="0.87" fill="#262626" opacity="0.55" filter="url(#b6)"/>
<ellipse cx="346.9" cy="28.7" rx="1.28" ry="1.37" fill="#262626" opacity="0.55" filter="url(#b6)"/>
<ellipse cx="320.2" cy="61.5" rx="0.68" ry="0.58" fill="#262626" opacity="0.55" filter="url(#b6)"/>
<ellipse cx="322.4" cy="67.9" rx="0.68" ry="0.77" fill="#262626" opacity="0.55" filter="url(#b6)"/>
<ellipse cx="323.5" cy="35.3" rx="1.18" ry="1.32" fill="#262626" opacity="0.55" filter="url(#b6)"/>
<ellipse cx="310.3" cy="42.8" rx="0.77" ry="0.60" fill="#262626" opacity="0.55" filter="url(#b6)"/>
<ellipse cx="367.5" cy="26.2" rx="0.90" ry="1.00" fill="#262626" opacity="0.55" filter="url(#b6)"/>
<ellipse cx="358.7" cy="32.7" rx="0.78" ry="0.70" fill="#262626" opacity="0.55" filter="url(#b6)"/>
<ellipse cx="311.0" cy="73.5" rx="0.58" ry="0.66" fill="#262626" opacity="0.55" filter="url(#b6)"/>
<ellipse cx="346.4" cy="61.4" rx="0.63" ry="0.55" fill="#262626" opacity="0.55" filter="url(#b6)"/>
<ellipse cx="336.1" cy="62.5" rx="1.30" ry="1.23" fill="#262626" opacity="0.55" filter="url(#b6)"/>
<ellipse cx="361.8" cy="59.6" rx="0.83" ry="0.99" fill="#262626" opacity="0.55" filter="url(#b6)"/>
<ellipse cx="327.9" cy="30.0" rx="1.05" ry="0.78" fill="#262626" opacity="0.55" filter="url(#b6)"/>
<ellipse cx="344.6" cy="44.3" rx="0.82" ry="1.14" fill="#262626" opacity="0.55" filter="url(#b6)"/>
<ellipse cx="324.4" cy="54.7" rx="0.72" ry="0.91" fill="#262626" opacity="0.55" filter="url(#b6)"/>
<ellipse cx="317.0" cy="27.8" rx="0.54" ry="0.52" fill="#262626" opacity="0.55" filter="url(#b6)"/>
<ellipse cx="347.7" cy="49.9" rx="1.51" ry="1.54" fill="#262626" opacity="0.55" filter="url(#b6)"/>
<ellipse cx="322.7" cy="46.8" rx="0.80" ry="0.81" fill="#262626" opacity="0.55" filter="url(#b6)"/>
<ellipse cx="357.9" cy="59.8" rx="0.76" ry="0.79" fill="#262626" opacity="0.55" filter="url(#b6)"/>
<ellipse cx="308.6" cy="26.7" rx="0.75" ry="0.97" fill="#262626" opacity="0.55" filter="url(#b6)"/>
<ellipse cx="323.2" cy="29.9" rx="0.65" ry="0.65" fill="#262626" opacity="0.55" filter="url(#b6)"/>
<ellipse cx="340.6" cy="47.8" rx="0.86" ry="0.72" fill="#262626" opacity="0.55" filter="url(#b6)"/>
<ellipse cx="364.5" cy="72.2" rx="1.08" ry="1.12" fill="#262626" opacity="0.55" filter="url(#b6)"/>
<ellipse cx="344.3" cy="27.5" rx="0.90" ry="0.78" fill="#262626" opacity="0.55" filter="url(#b6)"/>
<ellipse cx="314.1" cy="64.3" rx="0.86" ry="1.00" fill="#262626" opacity="0.55" filter="url(#b6)"/>
<ellipse cx="346.2" cy="39.2" rx="1.22" ry="1.04" fill="#262626" opacity="0.55" filter="url(#b6)"/>
<ellipse cx="350.8" cy="30.0" rx="0.93" ry="0.87" fill="#262626" opacity="0.55" filter="url(#b6)"/>
<ellipse cx="309.3" cy="47.1" rx="0.88" ry="0.78" fill="#262626" opacity="0.55" filter="url(#b6)"/>
<ellipse cx="344.8" cy="28.6" rx="0.76" ry="0.94" fill="#262626" opacity="0.55" filter="url(#b6)"/>
<ellipse cx="313.0" cy="62.0" rx="0.76" ry="0.70" fill="#262626" opacity="0.55" filter="url(#b6)"/>
<ellipse cx="337.0" cy="61.9" rx="0.74" ry="0.74" fill="#262626" opacity="0.55" filter="url(#b6)"/>
<ellipse cx="313.3" cy="66.7" rx="1.24" ry="1.13" fill="#262626" opacity="0.55" filter="url(#b6)"/>
<ellipse cx="309.8" cy="57.3" rx="1.25" ry="1.14" fill="#262626" opacity="0.55" filter="url(#b6)"/>
<ellipse cx="330.5" cy="47.4" rx="1.05" ry="1.17" fill="#262626" opacity="0.55" filter="url(#b6)"/>
<ellipse cx="337.9" cy="71.8" rx="1.36" ry="1.32" fill="#262626" opacity="0.55" filter="url(#b6)"/>
<ellipse cx="326.7" cy="36.3" rx="0.85" ry="0.91" fill="#262626" opacity="0.55" filter="url(#b6)"/>
<ellipse cx="350.4" cy="70.0" rx="1.14" ry="0.85" fill="#262626" opacity="0.55" filter="url(#b6)"/>
<ellipse cx="330.4" cy="73.9" rx="0.68" ry="0.58" fill="#262626" opacity="0.55" filter="url(#b6)"/>
<ellipse cx="313.6" cy="68.9" rx="1.37" ry="1.10" fill="#262626" opacity="0.55" filter="url(#b6)"/>
<ellipse cx="326.7" cy="36.4" rx="1.15" ry="1.04" fill="#262626" opacity="0.55" filter="url(#b6)"/>
<ellipse cx="340.8" cy="30.5" rx="1.15" ry="1.08" fill="#262626" opacity="0.55" filter="url(#b6)"/>
<ellipse cx="314.3" cy="50.3" rx="0.99" ry="1.27" fill="#262626" opacity="0.55" filter="url(#b6)"/>
<ellipse cx="336.9" cy="59.5" rx="1.06" ry="0.98" fill="#262626" opacity="0.55" filter="url(#b6)"/>
<ellipse cx="343.9" cy="32.1" rx="0.74" ry="0.94" fill="#262626" opacity="0.55" filter="url(#b6)"/>
<ellipse cx="363.0" cy="33.8" rx="0.95" ry="0.92" fill="#262626" opacity="0.55" filter="url(#b6)"/>
<ellipse cx="352.3" cy="70.9" rx="1.08" ry="1.30" fill="#262626" opacity="0.55" filter="url(#b6)"/>
<ellipse cx="328.8" cy="61.5" rx="1.17" ry="1.21" fill="#262626" opacity="0.55" filter="url(#b6)"/>
<ellipse cx="322.2" cy="55.4" rx="0.94" ry="1.05" fill="#262626" opacity="0.55" filter="url(#b6)"/>
<ellipse cx="347.7" cy="25.6" rx="1.00" ry="1.07" fill="#262626" opacity="0.55" filter="url(#b6)"/>
<ellipse cx="348.6" cy="65.0" rx="0.72" ry="0.67" fill="#262626" opacity="0.55" filter="url(#b6)"/>
<ellipse cx="345.9" cy="69.4" rx="1.02" ry="1.37" fill="#262626" opacity="0.55" filter="url(#b6)"/>
<ellipse cx="355.9" cy="34.8" rx="1.16" ry="0.98" fill="#262626" opacity="0.55" filter="url(#b6)"/>
<ellipse cx="358.2" cy="31.8" rx="1.00" ry="0.93" fill="#262626" opacity="0.55" filter="url(#b6)"/>
<ellipse cx="343.4" cy="47.9" rx="0.88" ry="0.62" fill="#262626" opacity="0.55" filter="url(#b6)"/>
<ellipse cx="308.5" cy="48.8" rx="1.26" ry="1.31" fill="#262626" opacity="0.55" filter="url(#b6)"/>
<ellipse cx="338.4" cy="58.1" rx="0.76" ry="0.84" fill="#262626" opacity="0.55" filter="url(#b6)"/>
<ellipse cx="310.0" cy="28.9" rx="0.98" ry="1.24" fill="#262626" opacity="0.55" filter="url(#b6)"/>
<ellipse cx="356.9" cy="44.8" rx="1.20" ry="1.23" fill="#262626" opacity="0.55" filter="url(#b6)"/>
<ellipse cx="316.7" cy="33.0" rx="0.85" ry="0.80" fill="#262626" opacity="0.55" filter="url(#b6)"/>
<ellipse cx="308.9" cy="52.3" rx="1.21" ry="1.30" fill="#262626" opacity="0.55" filter="url(#b6)"/>
<ellipse cx="332.0" cy="46.7" rx="1.12" ry="1.28" fill="#262626" opacity="0.55" filter="url(#b6)"/>
<ellipse cx="338.3" cy="51.4" rx="1.03" ry="1.40" fill="#262626" opacity="0.55" filter="url(#b6)"/>
<ellipse cx="327.2" cy="56.7" rx="1.23" ry="1.11" fill="#262626" opacity="0.55" filter="url(#b6)"/>
<ellipse cx="360.4" cy="29.6" rx="1.00" ry="1.06" fill="#262626" opacity="0.55" filter="url(#b6)"/>
<ellipse cx="361.1" cy="64.1" rx="0.96" ry="0.93" fill="#262626" opacity="0.55" filter="url(#b6)"/>
<ellipse cx="336.7" cy="36.4" rx="0.94" ry="0.67" fill="#262626" opacity="0.55" filter="url(#b6)"/>
<ellipse cx="359.1" cy="43.6" rx="0.79" ry="0.71" fill="#262626" opacity="0.55" filter="url(#b6)"/>
<ellipse cx="336.7" cy="33.2" rx="0.83" ry="1.05" fill="#262626" opacity="0.55" filter="url(#b6)"/>
<ellipse cx="365.4" cy="46.7" rx="1.23" ry="0.97" fill="#262626" opacity="0.55" filter="url(#b6)"/>
<ellipse cx="314.5" cy="36.7" rx="0.78" ry="0.70" fill="#262626" opacity="0.55" filter="url(#b6)"/>
<ellipse cx="330.4" cy="64.0" rx="0.86" ry="0.80" fill="#262626" opacity="0.55" filter="url(#b6)"/>
<ellipse cx="333.1" cy="65.4" rx="0.97" ry="0.98" fill="#262626" opacity="0.55" filter="url(#b6)"/>
<ellipse cx="339.5" cy="58.8" rx="1.39" ry="1.39" fill="#262626" opacity="0.55" filter="url(#b6)"/>
<ellipse cx="362.2" cy="70.8" rx="1.34" ry="1.03" fill="#262626" opacity="0.55" filter="url(#b6)"/>
<ellipse cx="346.9" cy="57.9" rx="0.82" ry="0.75" fill="#262626" opacity="0.55" filter="url(#b6)"/>
<ellipse cx="367.7" cy="42.3" rx="1.08" ry="0.82" fill="#262626" opacity="0.55" filter="url(#b6)"/>
<ellipse cx="367.9" cy="31.2" rx="0.58" ry="0.58" fill="#262626" opacity="0.55" filter="url(#b6)"/>
<ellipse cx="365.2" cy="68.3" rx="1.10" ry="1.15" fill="#262626" opacity="0.55" filter="url(#b6)"/>
<ellipse cx="323.0" cy="65.8" rx="0.80" ry="0.92" fill="#262626" opacity="0.55" filter="url(#b6)"/>
<ellipse cx="317.6" cy="40.5" rx="1.05" ry="1.07" fill="#262626" opacity="0.55" filter="url(#b6)"/>
<ellipse cx="321.0" cy="37.3" rx="0.80" ry="0.84" fill="#262626" opacity="0.55" filter="url(#b6)"/>
<ellipse cx="323.6" cy="36.8" rx="0.96" ry="0.98" fill="#262626" opacity="0.55" filter="url(#b6)"/>
<ellipse cx="355.9" cy="28.0" rx="0.80" ry="0.68" fill="#262626" opacity="0.55" filter="url(#b6)"/>
<ellipse cx="356.6" cy="31.5" rx="1.10" ry="0.90" fill="#262626" opacity="0.55" filter="url(#b6)"/>
<ellipse cx="355.9" cy="54.9" rx="1.05" ry="0.84" fill="#262626" opacity="0.55" filter="url(#b6)"/>
<ellipse cx="337.7" cy="55.4" rx="0.93" ry="0.85" fill="#262626" opacity="0.55" filter="url(#b6)"/>
<ellipse cx="344.8" cy="51.4" rx="1.54" ry="1.47" fill="#262626" opacity="0.55" filter="url(#b6)"/>
<ellipse cx="336.5" cy="45.2" rx="0.79" ry="0.82" fill="#262626" opacity="0.55" filter="url(#b6)"/>
<ellipse cx="370.0" cy="31.3" rx="1.35" ry="1.46" fill="#262626" opacity="0.55" filter="url(#b6)"/>
<ellipse cx="313.1" cy="40.0" rx="0.93" ry="0.98" fill="#262626" opacity="0.55" filter="url(#b6)"/>
<ellipse cx="330.0" cy="33.5" rx="0.75" ry="0.59" fill="#262626" opacity="0.55" filter="url(#b6)"/>
<ellipse cx="368.5" cy="56.8" rx="0.74" ry="0.57" fill="#262626" opacity="0.55" filter="url(#b6)"/>
<ellipse cx="338.2" cy="52.4" rx="0.70" ry="0.57" fill="#262626" opacity="0.55" filter="url(#b6)"/>
<ellipse cx="320.7" cy="70.0" rx="1.19" ry="1.26" fill="#262626" opacity="0.55" filter="url(#b6)"/>
<ellipse cx="362.6" cy="31.9" rx="0.81" ry="0.80" fill="#262626" opacity="0.55" filter="url(#b6)"/>
<ellipse cx="315.0" cy="35.4" rx="0.56" ry="0.61" fill="#262626" opacity="0.55" filter="url(#b6)"/>
<ellipse cx="346.9" cy="67.1" rx="1.34" ry="1.24" fill="#262626" opacity="0.55" filter="url(#b6)"/>
<ellipse cx="365.2" cy="33.0" rx="0.76" ry="0.71" fill="#262626" opacity="0.55" filter="url(#b6)"/>
<ellipse cx="321.3" cy="43.5" rx="0.79" ry="0.78" fill="#262626" opacity="0.55" filter="url(#b6)"/>
<ellipse cx="333.0" cy="64.1" rx="1.20" ry="1.16" fill="#262626" opacity="0.55" filter="url(#b6)"/>
<ellipse cx="325.9" cy="62.5" rx="1.15" ry="1.40" fill="#262626" opacity="0.55" filter="url(#b6)"/>
<ellipse cx="351.6" cy="57.3" rx="0.63" ry="0.55" fill="#262626" opacity="0.55" filter="url(#b6)"/>
<ellipse cx="320.3" cy="53.4" rx="1.10" ry="1.15" fill="#262626" opacity="0.55" filter="url(#b6)"/>
<ellipse cx="351.9" cy="48.3" rx="0.70" ry="0.72" fill="#262626" opacity="0.55" filter="url(#b6)"/>
<ellipse cx="360.1" cy="54.3" rx="0.55" ry="0.53" fill="#262626" opacity="0.55" filter="url(#b6)"/>
<ellipse cx="347.7" cy="51.7" rx="0.86" ry="0.87" fill="#262626" opacity="0.55" filter="url(#b6)"/>
<ellipse cx="364.1" cy="47.7" rx="0.71" ry="0.91" fill="#262626" opacity="0.55" filter="url(#b6)"/>
<ellipse cx="351.8" cy="38.6" rx="1.27" ry="1.19" fill="#262626" opacity="0.55" filter="url(#b6)"/>
<ellipse cx="334.1" cy="60.3" rx="0.98" ry="0.78" fill="#262626" opacity="0.55" filter="url(#b6)"/>
<ellipse cx="351.8" cy="38.3" rx="1.10" ry="1.15" fill="#262626" opacity="0.55" filter="url(#b6)"/>
<ellipse cx="341.7" cy="44.2" rx="1.13" ry="0.85" fill="#262626" opacity="0.55" filter="url(#b6)"/>
<ellipse cx="356.2" cy="59.0" rx="1.13" ry="1.13" fill="#262626" opacity="0.55" filter="url(#b6)"/>
<ellipse cx="329.7" cy="48.2" rx="0.68" ry="0.77" fill="#262626" opacity="0.55" filter="url(#b6)"/>
<ellipse cx="320.2" cy="48.0" rx="0.93" ry="0.87" fill="#262626" opacity="0.55" filter="url(#b6)"/>
<ellipse cx="345.8" cy="67.1" rx="0.79" ry="0.80" fill="#262626" opacity="0.55" filter="url(#b6)"/>
<ellipse cx="363.2" cy="58.4" rx="0.72" ry="0.93" fill="#262626" opacity="0.55" filter="url(#b6)"/>
<ellipse cx="326.8" cy="25.6" rx="1.06" ry="1.12" fill="#262626" opacity="0.55" filter="url(#b6)"/>
<ellipse cx="328.1" cy="37.5" rx="1.04" ry="1.08" fill="#262626" opacity="0.55" filter="url(#b6)"/>
<ellipse cx="334.3" cy="65.8" rx="0.63" ry="0.52" fill="#262626" opacity="0.55" filter="url(#b6)"/>
<ellipse cx="317.6" cy="54.7" rx="0.71" ry="0.89" fill="#262626" opacity="0.55" filter="url(#b6)"/>
<ellipse cx="365.0" cy="56.6" rx="1.06" ry="1.10" fill="#262626" opacity="0.55" filter="url(#b6)"/>
<ellipse cx="317.7" cy="39.7" rx="1.49" ry="1.12" fill="#262626" opacity="0.55" filter="url(#b6)"/>
<ellipse cx="351.9" cy="67.8" rx="1.10" ry="1.02" fill="#262626" opacity="0.55" filter="url(#b6)"/>
<ellipse cx="322.9" cy="35.4" rx="0.69" ry="0.55" fill="#262626" opacity="0.55" filter="url(#b6)"/>
<ellipse cx="346.8" cy="44.2" rx="1.08" ry="0.87" fill="#262626" opacity="0.55" filter="url(#b6)"/>
<ellipse cx="337.7" cy="43.6" rx="0.67" ry="0.76" fill="#262626" opacity="0.55" filter="url(#b6)"/>
<ellipse cx="359.0" cy="29.4" rx="1.35" ry="1.04" fill="#262626" opacity="0.55" filter="url(#b6)"/>
<ellipse cx="352.1" cy="44.7" rx="0.81" ry="0.96" fill="#262626" opacity="0.55" filter="url(#b6)"/>
<ellipse cx="340.5" cy="63.3" rx="1.09" ry="1.10" fill="#262626" opacity="0.55" filter="url(#b6)"/>
<ellipse cx="322.0" cy="26.2" rx="0.80" ry="0.80" fill="#262626" opacity="0.55" filter="url(#b6)"/>
<ellipse cx="328.2" cy="51.3" rx="1.09" ry="1.21" fill="#262626" opacity="0.55" filter="url(#b6)"/>
<ellipse cx="314.6" cy="52.3" rx="0.71" ry="0.64" fill="#262626" opacity="0.55" filter="url(#b6)"/>
<ellipse cx="317.0" cy="40.2" rx="1.05" ry="1.25" fill="#262626" opacity="0.55" filter="url(#b6)"/>
<ellipse cx="330.3" cy="41.7" rx="1.30" ry="1.05" fill="#262626" opacity="0.55" filter="url(#b6)"/>
<ellipse cx="356.9" cy="42.8" rx="1.33" ry="1.42" fill="#262626" opacity="0.55" filter="url(#b6)"/>
<ellipse cx="363.8" cy="50.0" rx="1.03" ry="1.20" fill="#262626" opacity="0.55" filter="url(#b6)"/>
<ellipse cx="360.2" cy="25.4" rx="1.28" ry="1.16" fill="#262626" opacity="0.55" filter="url(#b6)"/>
<ellipse cx="361.8" cy="28.8" rx="1.02" ry="0.95" fill="#262626" opacity="0.55" filter="url(#b6)"/>
<ellipse cx="334.3" cy="63.7" rx="0.58" ry="0.74" fill="#262626" opacity="0.55" filter="url(#b6)"/>
<ellipse cx="368.2" cy="65.5" rx="0.98" ry="1.24" fill="#262626" opacity="0.55" filter="url(#b6)"/>
<ellipse cx="310.8" cy="37.1" rx="1.33" ry="1.11" fill="#262626" opacity="0.55" filter="url(#b6)"/>
<ellipse cx="364.7" cy="30.4" rx="0.84" ry="0.91" fill="#262626" opacity="0.55" filter="url(#b6)"/>
<ellipse cx="320.1" cy="25.3" rx="0.88" ry="0.81" fill="#262626" opacity="0.55" filter="url(#b6)"/>
<ellipse cx="348.7" cy="27.6" rx="0.97" ry="0.92" fill="#262626" opacity="0.55" filter="url(#b6)"/>
<ellipse cx="365.0" cy="31.2" rx="0.88" ry="0.85" fill="#262626" opacity="0.55" filter="url(#b6)"/>
<ellipse cx="368.7" cy="53.0" rx="0.94" ry="0.94" fill="#262626" opacity="0.55" filter="url(#b6)"/>
<ellipse cx="367.3" cy="64.2" rx="0.91" ry="1.09" fill="#262626" opacity="0.55" filter="url(#b6)"/>
<ellipse cx="316.2" cy="42.2" rx="0.67" ry="0.73" fill="#262626" opacity="0.55" filter="url(#b6)"/>
<ellipse cx="347.8" cy="52.9" rx="0.76" ry="0.76" fill="#262626" opacity="0.55" filter="url(#b6)"/>
<ellipse cx="334.5" cy="38.2" rx="0.83" ry="0.89" fill="#262626" opacity="0.55" filter="url(#b6)"/>
<ellipse cx="359.2" cy="55.5" rx="0.57" ry="0.70" fill="#262626" opacity="0.55" filter="url(#b6)"/>
<ellipse cx="368.6" cy="51.8" rx="1.07" ry="0.90" fill="#262626" opacity="0.55" filter="url(#b6)"/>
<ellipse cx="352.5" cy="42.9" rx="1.17" ry="1.27" fill="#262626" opacity="0.55" filter="url(#b6)"/>
<ellipse cx="342.8" cy="51.2" rx="1.09" ry="1.02" fill="#262626" opacity="0.55" filter="url(#b6)"/>
<ellipse cx="334.3" cy="49.8" rx="1.35" ry="1.30" fill="#262626" opacity="0.55" filter="url(#b6)"/>
<ellipse cx="367.7" cy="30.7" rx="1.07" ry="1.00" fill="#262626" opacity="0.55" filter="url(#b6)"/>
<ellipse cx="368.0" cy="72.4" rx="0.91" ry="0.97" fill="#262626" opacity="0.55" filter="url(#b6)"/>
<ellipse cx="351.5" cy="42.8" rx="1.09" ry="1.00" fill="#262626" opacity="0.55" filter="url(#b6)"/>
<ellipse cx="349.5" cy="56.8" rx="0.89" ry="1.06" fill="#262626" opacity="0.55" filter="url(#b6)"/>
<ellipse cx="358.4" cy="44.9" rx="1.27" ry="1.19" fill="#262626" opacity="0.55" filter="url(#b6)"/>
<ellipse cx="348.4" cy="63.4" rx="1.31" ry="1.31" fill="#262626" opacity="0.55" filter="url(#b6)"/>
<ellipse cx="333.2" cy="27.0" rx="0.78" ry="1.08" fill="#262626" opacity="0.55" filter="url(#b6)"/>
<ellipse cx="330.8" cy="54.6" rx="0.97" ry="1.26" fill="#262626" opacity="0.55" filter="url(#b6)"/>
<ellipse cx="328.5" cy="28.9" rx="0.98" ry="1.19" fill="#262626" opacity="0.55" filter="url(#b6)"/>
<ellipse cx="335.9" cy="29.6" rx="0.50" ry="0.61" fill="#262626" opacity="0.55" filter="url(#b6)"/>
<ellipse cx="352.6" cy="27.5" rx="0.82" ry="0.96" fill="#262626" opacity="0.55" filter="url(#b6)"/>
<ellipse cx="368.5" cy="67.9" rx="1.08" ry="0.93" fill="#262626" opacity="0.55" filter="url(#b6)"/>
<ellipse cx="346.3" cy="33.1" rx="0.92" ry="0.83" fill="#262626" opacity="0.55" filter="url(#b6)"/>
<ellipse cx="353.3" cy="47.8" rx="0.80" ry="0.82" fill="#262626" opacity="0.55" filter="url(#b6)"/>
<ellipse cx="323.3" cy="66.4" rx="1.12" ry="1.15" fill="#262626" opacity="0.55" filter="url(#b6)"/>
<ellipse cx="358.6" cy="60.4" rx="0.78" ry="0.68" fill="#262626" opacity="0.55" filter="url(#b6)"/>
<ellipse cx="361.8" cy="53.8" rx="0.83" ry="0.92" fill="#262626" opacity="0.55" filter="url(#b6)"/>
<ellipse cx="337.6" cy="42.7" rx="0.64" ry="0.78" fill="#262626" opacity="0.55" filter="url(#b6)"/>
<ellipse cx="365.6" cy="66.4" rx="1.15" ry="0.88" fill="#262626" opacity="0.55" filter="url(#b6)"/>
<ellipse cx="321.3" cy="59.5" rx="0.50" ry="0.67" fill="#262626" opacity="0.55" filter="url(#b6)"/>
<ellipse cx="320.5" cy="34.1" rx="0.99" ry="0.71" fill="#262626" opacity="0.55" filter="url(#b6)"/>
<ellipse cx="362.7" cy="39.9" rx="0.99" ry="0.85" fill="#262626" opacity="0.55" filter="url(#b6)"/>
<ellipse cx="367.7" cy="33.6" rx="1.34" ry="1.14" fill="#262626" opacity="0.55" filter="url(#b6)"/>
<ellipse cx="367.8" cy="28.1" rx="0.70" ry="0.58" fill="#262626" opacity="0.55" filter="url(#b6)"/>
<ellipse cx="358.4" cy="50.8" rx="1.06" ry="0.94" fill="#262626" opacity="0.55" filter="url(#b6)"/>
<ellipse cx="363.5" cy="35.2" rx="0.76" ry="0.92" fill="#262626" opacity="0.55" filter="url(#b6)"/>
<ellipse cx="337.1" cy="34.7" rx="0.59" ry="0.70" fill="#262626" opacity="0.55" filter="url(#b6)"/>
<ellipse cx="317.8" cy="36.2" rx="1.09" ry="1.16" fill="#262626" opacity="0.55" filter="url(#b6)"/>
<ellipse cx="348.3" cy="66.6" rx="0.83" ry="0.58" fill="#262626" opacity="0.55" filter="url(#b6)"/>
<ellipse cx="315.7" cy="30.1" rx="1.14" ry="1.34" fill="#262626" opacity="0.55" filter="url(#b6)"/>
<ellipse cx="368.7" cy="71.7" rx="0.97" ry="1.22" fill="#262626" opacity="0.55" filter="url(#b6)"/>
<ellipse cx="353.7" cy="34.6" rx="0.80" ry="0.80" fill="#262626" opacity="0.55" filter="url(#b6)"/>
<ellipse cx="347.9" cy="60.2" rx="1.32" ry="1.03" fill="#262626" opacity="0.55" filter="url(#b6)"/>
<ellipse cx="354.1" cy="73.1" rx="1.07" ry="0.99" fill="#262626" opacity="0.55" filter="url(#b6)"/>
<ellipse cx="312.2" cy="55.6" rx="1.08" ry="1.44" fill="#262626" opacity="0.55" filter="url(#b6)"/>
<ellipse cx="364.0" cy="42.3" rx="1.03" ry="1.10" fill="#262626" opacity="0.55" filter="url(#b6)"/>
<ellipse cx="343.4" cy="68.1" rx="0.81" ry="1.14" fill="#262626" opacity="0.55" filter="url(#b6)"/>
<ellipse cx="343.7" cy="63.2" rx="0.71" ry="0.64" fill="#262626" opacity="0.55" filter="url(#b6)"/>
<ellipse cx="319.9" cy="46.4" rx="0.94" ry="1.01" fill="#262626" opacity="0.55" filter="url(#b6)"/>
<ellipse cx="329.0" cy="70.3" rx="0.99" ry="0.92" fill="#262626" opacity="0.55" filter="url(#b6)"/>
<ellipse cx="367.6" cy="57.2" rx="0.68" ry="0.60" fill="#262626" opacity="0.55" filter="url(#b6)"/>
<ellipse cx="334.4" cy="62.5" rx="0.69" ry="0.77" fill="#262626" opacity="0.55" filter="url(#b6)"/>
<ellipse cx="364.4" cy="29.2" rx="1.29" ry="1.03" fill="#262626" opacity="0.55" filter="url(#b6)"/>
<ellipse cx="349.3" cy="55.4" rx="1.11" ry="1.02" fill="#262626" opacity="0.55" filter="url(#b6)"/>
<ellipse cx="339.5" cy="36.7" rx="0.88" ry="0.77" fill="#262626" opacity="0.55" filter="url(#b6)"/>
<ellipse cx="322.7" cy="41.9" rx="0.90" ry="0.96" fill="#262626" opacity="0.55" filter="url(#b6)"/>
<ellipse cx="324.4" cy="52.2" rx="0.75" ry="0.72" fill="#262626" opacity="0.55" filter="url(#b6)"/>
<ellipse cx="367.8" cy="70.7" rx="1.03" ry="1.02" fill="#262626" opacity="0.55" filter="url(#b6)"/>
<ellipse cx="314.8" cy="39.7" rx="0.72" ry="0.87" fill="#262626" opacity="0.55" filter="url(#b6)"/>
<ellipse cx="351.0" cy="65.9" rx="0.59" ry="0.82" fill="#262626" opacity="0.55" filter="url(#b6)"/>
<ellipse cx="331.9" cy="40.4" rx="0.64" ry="0.64" fill="#262626" opacity="0.55" filter="url(#b6)"/>
<ellipse cx="324.2" cy="36.4" rx="1.08" ry="0.89" fill="#262626" opacity="0.55" filter="url(#b6)"/>
<ellipse cx="334.1" cy="48.7" rx="1.32" ry="1.42" fill="#262626" opacity="0.55" filter="url(#b6)"/>
<ellipse cx="319.0" cy="64.5" rx="0.83" ry="0.81" fill="#262626" opacity="0.55" filter="url(#b6)"/>
<ellipse cx="343.9" cy="40.8" rx="0.52" ry="0.76" fill="#262626" opacity="0.55" filter="url(#b6)"/>
<ellipse cx="363.3" cy="47.5" rx="0.75" ry="0.66" fill="#262626" opacity="0.55" filter="url(#b6)"/>
<ellipse cx="337.5" cy="56.3" rx="0.63" ry="0.80" fill="#262626" opacity="0.55" filter="url(#b6)"/>
<ellipse cx="353.8" cy="73.2" rx="1.07" ry="1.04" fill="#262626" opacity="0.55" filter="url(#b6)"/>
<ellipse cx="339.8" cy="68.7" rx="0.59" ry="0.80" fill="#262626" opacity="0.55" filter="url(#b6)"/>
<ellipse cx="317.1" cy="50.3" rx="1.20" ry="0.99" fill="#262626" opacity="0.55" filter="url(#b6)"/>
<ellipse cx="357.1" cy="27.1" rx="1.15" ry="1.01" fill="#262626" opacity="0.55" filter="url(#b6)"/>
<ellipse cx="327.1" cy="73.9" rx="1.24" ry="1.28" fill="#262626" opacity="0.55" filter="url(#b6)"/>
<ellipse cx="366.3" cy="53.1" rx="1.18" ry="1.06" fill="#262626" opacity="0.55" filter="url(#b6)"/>
<ellipse cx="325.5" cy="37.8" rx="0.65" ry="0.59" fill="#262626" opacity="0.55" filter="url(#b6)"/>
<ellipse cx="364.7" cy="27.5" rx="1.01" ry="1.07" fill="#262626" opacity="0.55" filter="url(#b6)"/>
<ellipse cx="326.4" cy="71.9" rx="1.04" ry="0.92" fill="#262626" opacity="0.55" filter="url(#b6)"/>
<ellipse cx="311.3" cy="43.0" rx="1.25" ry="1.37" fill="#262626" opacity="0.55" filter="url(#b6)"/>
<ellipse cx="362.9" cy="27.3" rx="0.80" ry="0.73" fill="#262626" opacity="0.55" filter="url(#b6)"/>
<ellipse cx="332.0" cy="58.4" rx="0.75" ry="0.64" fill="#262626" opacity="0.55" filter="url(#b6)"/>
<ellipse cx="349.0" cy="33.5" rx="1.12" ry="1.31" fill="#262626" opacity="0.55" filter="url(#b6)"/>
<ellipse cx="368.3" cy="53.5" rx="0.58" ry="0.73" fill="#262626" opacity="0.55" filter="url(#b6)"/>
<ellipse cx="348.7" cy="62.2" rx="1.10" ry="1.09" fill="#262626" opacity="0.55" filter="url(#b6)"/>
<ellipse cx="346.3" cy="53.9" rx="0.54" ry="0.59" fill="#262626" opacity="0.55" filter="url(#b6)"/>
<ellipse cx="353.0" cy="66.5" rx="1.32" ry="0.92" fill="#262626" opacity="0.55" filter="url(#b6)"/>
<ellipse cx="310.1" cy="37.5" rx="0.63" ry="0.72" fill="#262626" opacity="0.55" filter="url(#b6)"/>
<ellipse cx="364.0" cy="30.2" rx="1.14" ry="1.13" fill="#262626" opacity="0.55" filter="url(#b6)"/>
<ellipse cx="333.8" cy="36.6" rx="1.42" ry="1.33" fill="#262626" opacity="0.55" filter="url(#b6)"/>
<ellipse cx="342.0" cy="26.6" rx="0.71" ry="0.71" fill="#262626" opacity="0.55" filter="url(#b6)"/>
<ellipse cx="321.7" cy="57.7" rx="0.94" ry="1.25" fill="#262626" opacity="0.55" filter="url(#b6)"/>
<ellipse cx="308.3" cy="71.8" rx="1.07" ry="0.92" fill="#262626" opacity="0.55" filter="url(#b6)"/>
<ellipse cx="351.2" cy="67.9" rx="0.63" ry="0.83" fill="#262626" opacity="0.55" filter="url(#b6)"/>
<ellipse cx="323.8" cy="30.2" rx="0.83" ry="0.84" fill="#262626" opacity="0.55" filter="url(#b6)"/>
<ellipse cx="325.9" cy="29.1" rx="1.20" ry="1.25" fill="#262626" opacity="0.55" filter="url(#b6)"/>
<ellipse cx="326.4" cy="63.0" rx="1.53" ry="1.04" fill="#262626" opacity="0.55" filter="url(#b6)"/>
<ellipse cx="327.6" cy="29.4" rx="0.99" ry="0.97" fill="#262626" opacity="0.55" filter="url(#b6)"/>
<ellipse cx="330.3" cy="72.2" rx="1.24" ry="1.01" fill="#262626" opacity="0.55" filter="url(#b6)"/>
<ellipse cx="348.3" cy="29.9" rx="1.03" ry="0.87" fill="#262626" opacity="0.55" filter="url(#b6)"/>
<ellipse cx="347.0" cy="31.5" rx="0.96" ry="0.92" fill="#262626" opacity="0.55" filter="url(#b6)"/>
<ellipse cx="317.7" cy="34.3" rx="0.91" ry="0.84" fill="#262626" opacity="0.55" filter="url(#b6)"/>
<ellipse cx="320.8" cy="41.6" rx="0.70" ry="0.85" fill="#262626" opacity="0.55" filter="url(#b6)"/>
<ellipse cx="337.5" cy="41.0" rx="0.58" ry="0.41" fill="#555" opacity="0.35" filter="url(#b6)"/>
<ellipse cx="315.4" cy="39.4" rx="1.05" ry="0.99" fill="#555" opacity="0.35" filter="url(#b6)"/>
<ellipse cx="321.1" cy="66.1" rx="0.44" ry="0.44" fill="#555" opacity="0.35" filter="url(#b6)"/>
<ellipse cx="343.2" cy="54.1" rx="0.96" ry="0.90" fill="#555" opacity="0.35" filter="url(#b6)"/>
<ellipse cx="354.4" cy="33.5" rx="1.12" ry="1.08" fill="#555" opacity="0.35" filter="url(#b6)"/>
<ellipse cx="313.3" cy="60.0" rx="0.77" ry="0.69" fill="#555" opacity="0.35" filter="url(#b6)"/>
<ellipse cx="356.2" cy="64.5" rx="0.81" ry="0.97" fill="#555" opacity="0.35" filter="url(#b6)"/>
<ellipse cx="313.7" cy="58.4" rx="0.41" ry="0.43" fill="#555" opacity="0.35" filter="url(#b6)"/>
<ellipse cx="348.8" cy="73.2" rx="0.78" ry="0.76" fill="#555" opacity="0.35" filter="url(#b6)"/>
<ellipse cx="360.5" cy="72.5" rx="0.85" ry="0.75" fill="#555" opacity="0.35" filter="url(#b6)"/>
<ellipse cx="363.7" cy="38.7" rx="1.01" ry="0.76" fill="#555" opacity="0.35" filter="url(#b6)"/>
<ellipse cx="320.3" cy="45.7" rx="1.05" ry="1.10" fill="#555" opacity="0.35" filter="url(#b6)"/>
<ellipse cx="325.2" cy="55.5" rx="0.89" ry="0.97" fill="#555" opacity="0.35" filter="url(#b6)"/>
<ellipse cx="322.2" cy="67.0" rx="0.72" ry="0.77" fill="#555" opacity="0.35" filter="url(#b6)"/>
<ellipse cx="328.1" cy="64.8" rx="0.71" ry="0.80" fill="#555" opacity="0.35" filter="url(#b6)"/>
<ellipse cx="349.6" cy="59.8" rx="1.05" ry="0.90" fill="#555" opacity="0.35" filter="url(#b6)"/>
<ellipse cx="348.2" cy="67.3" rx="0.56" ry="0.53" fill="#555" opacity="0.35" filter="url(#b6)"/>
<ellipse cx="333.3" cy="30.8" rx="0.71" ry="0.74" fill="#555" opacity="0.35" filter="url(#b6)"/>
<ellipse cx="369.5" cy="62.0" rx="1.06" ry="0.81" fill="#555" opacity="0.35" filter="url(#b6)"/>
<ellipse cx="351.1" cy="67.6" rx="0.80" ry="0.95" fill="#555" opacity="0.35" filter="url(#b6)"/>
<ellipse cx="332.5" cy="46.2" rx="0.93" ry="0.74" fill="#555" opacity="0.35" filter="url(#b6)"/>
<ellipse cx="348.0" cy="27.9" rx="0.68" ry="0.70" fill="#555" opacity="0.35" filter="url(#b6)"/>
<ellipse cx="324.1" cy="62.5" rx="0.59" ry="0.56" fill="#555" opacity="0.35" filter="url(#b6)"/>
<ellipse cx="313.5" cy="46.2" rx="0.89" ry="0.65" fill="#555" opacity="0.35" filter="url(#b6)"/>
<ellipse cx="326.1" cy="25.2" rx="0.55" ry="0.68" fill="#555" opacity="0.35" filter="url(#b6)"/>
<ellipse cx="366.5" cy="35.5" rx="0.75" ry="0.74" fill="#555" opacity="0.35" filter="url(#b6)"/>
<ellipse cx="367.8" cy="71.6" rx="0.50" ry="0.53" fill="#555" opacity="0.35" filter="url(#b6)"/>
<ellipse cx="348.6" cy="51.0" rx="0.76" ry="0.90" fill="#555" opacity="0.35" filter="url(#b6)"/>
<ellipse cx="359.8" cy="33.4" rx="0.61" ry="0.50" fill="#555" opacity="0.35" filter="url(#b6)"/>
<ellipse cx="342.1" cy="31.1" rx="0.55" ry="0.66" fill="#555" opacity="0.35" filter="url(#b6)"/>
<ellipse cx="346.2" cy="54.8" rx="0.78" ry="0.97" fill="#555" opacity="0.35" filter="url(#b6)"/>
<ellipse cx="345.2" cy="55.8" rx="0.48" ry="0.55" fill="#555" opacity="0.35" filter="url(#b6)"/>
<ellipse cx="367.6" cy="59.5" rx="0.59" ry="0.47" fill="#555" opacity="0.35" filter="url(#b6)"/>
<ellipse cx="345.2" cy="34.4" rx="0.59" ry="0.53" fill="#555" opacity="0.35" filter="url(#b6)"/>
<ellipse cx="345.8" cy="59.5" rx="0.77" ry="0.74" fill="#555" opacity="0.35" filter="url(#b6)"/>
<ellipse cx="341.2" cy="37.1" rx="0.71" ry="0.59" fill="#555" opacity="0.35" filter="url(#b6)"/>
<ellipse cx="353.0" cy="58.3" rx="0.82" ry="0.68" fill="#555" opacity="0.35" filter="url(#b6)"/>
<ellipse cx="308.5" cy="66.6" rx="0.96" ry="1.02" fill="#555" opacity="0.35" filter="url(#b6)"/>
<ellipse cx="333.6" cy="45.9" rx="0.93" ry="0.74" fill="#555" opacity="0.35" filter="url(#b6)"/>
<ellipse cx="355.3" cy="71.9" rx="0.51" ry="0.54" fill="#555" opacity="0.35" filter="url(#b6)"/>
<ellipse cx="348.3" cy="35.6" rx="0.82" ry="1.13" fill="#555" opacity="0.35" filter="url(#b6)"/>
<ellipse cx="330.2" cy="70.1" rx="0.57" ry="0.72" fill="#555" opacity="0.35" filter="url(#b6)"/>
<ellipse cx="326.9" cy="71.1" rx="0.82" ry="0.91" fill="#555" opacity="0.35" filter="url(#b6)"/>
<ellipse cx="342.4" cy="62.9" rx="0.65" ry="0.64" fill="#555" opacity="0.35" filter="url(#b6)"/>
<ellipse cx="344.8" cy="52.2" rx="0.68" ry="0.69" fill="#555" opacity="0.35" filter="url(#b6)"/>
<ellipse cx="370.0" cy="50.6" rx="0.53" ry="0.61" fill="#555" opacity="0.35" filter="url(#b6)"/>
<ellipse cx="350.6" cy="29.0" rx="0.69" ry="0.80" fill="#555" opacity="0.35" filter="url(#b6)"/>
<ellipse cx="324.9" cy="69.9" rx="0.73" ry="0.91" fill="#555" opacity="0.35" filter="url(#b6)"/>
<ellipse cx="341.3" cy="55.9" rx="0.83" ry="1.07" fill="#555" opacity="0.35" filter="url(#b6)"/>
<ellipse cx="308.9" cy="65.8" rx="0.51" ry="0.71" fill="#555" opacity="0.35" filter="url(#b6)"/>
<ellipse cx="368.5" cy="57.2" rx="0.85" ry="0.80" fill="#555" opacity="0.35" filter="url(#b6)"/>
<ellipse cx="349.5" cy="64.6" rx="0.60" ry="0.58" fill="#555" opacity="0.35" filter="url(#b6)"/>
<ellipse cx="324.7" cy="67.4" rx="0.41" ry="0.44" fill="#555" opacity="0.35" filter="url(#b6)"/>
<ellipse cx="357.0" cy="52.9" rx="0.95" ry="1.02" fill="#555" opacity="0.35" filter="url(#b6)"/>
<ellipse cx="344.7" cy="26.1" rx="0.53" ry="0.47" fill="#555" opacity="0.35" filter="url(#b6)"/>
<ellipse cx="327.5" cy="38.5" rx="1.18" ry="1.06" fill="#555" opacity="0.35" filter="url(#b6)"/>
<ellipse cx="334.4" cy="45.2" rx="0.53" ry="0.46" fill="#555" opacity="0.35" filter="url(#b6)"/>
<ellipse cx="341.3" cy="65.0" rx="0.76" ry="0.79" fill="#555" opacity="0.35" filter="url(#b6)"/>
<ellipse cx="365.0" cy="45.9" rx="0.71" ry="0.62" fill="#555" opacity="0.35" filter="url(#b6)"/>
<ellipse cx="325.2" cy="58.5" rx="1.11" ry="0.89" fill="#555" opacity="0.35" filter="url(#b6)"/>
<ellipse cx="324.7" cy="37.3" rx="0.58" ry="0.76" fill="#555" opacity="0.35" filter="url(#b6)"/>
<ellipse cx="347.6" cy="27.5" rx="0.48" ry="0.65" fill="#555" opacity="0.35" filter="url(#b6)"/>
<ellipse cx="329.5" cy="64.5" rx="0.54" ry="0.72" fill="#555" opacity="0.35" filter="url(#b6)"/>
<ellipse cx="313.0" cy="49.5" rx="0.71" ry="0.84" fill="#555" opacity="0.35" filter="url(#b6)"/>
<ellipse cx="361.3" cy="36.2" rx="0.65" ry="0.65" fill="#555" opacity="0.35" filter="url(#b6)"/>
<ellipse cx="347.5" cy="62.9" rx="0.79" ry="0.66" fill="#555" opacity="0.35" filter="url(#b6)"/>
<ellipse cx="310.1" cy="45.7" rx="0.67" ry="0.88" fill="#555" opacity="0.35" filter="url(#b6)"/>
<ellipse cx="345.3" cy="50.5" rx="0.55" ry="0.58" fill="#555" opacity="0.35" filter="url(#b6)"/>
<ellipse cx="348.1" cy="58.5" rx="0.68" ry="0.94" fill="#555" opacity="0.35" filter="url(#b6)"/>
<ellipse cx="351.4" cy="58.4" rx="0.87" ry="0.90" fill="#555" opacity="0.35" filter="url(#b6)"/>
<ellipse cx="344.5" cy="46.2" rx="0.86" ry="0.83" fill="#555" opacity="0.35" filter="url(#b6)"/>
<ellipse cx="356.4" cy="40.1" rx="0.72" ry="0.83" fill="#555" opacity="0.35" filter="url(#b6)"/>
<ellipse cx="309.2" cy="51.2" rx="1.01" ry="0.86" fill="#555" opacity="0.35" filter="url(#b6)"/>
<ellipse cx="362.4" cy="34.8" rx="0.52" ry="0.47" fill="#555" opacity="0.35" filter="url(#b6)"/>
<ellipse cx="332.8" cy="54.3" rx="1.01" ry="0.82" fill="#555" opacity="0.35" filter="url(#b6)"/>
<ellipse cx="344.4" cy="55.9" rx="0.87" ry="0.83" fill="#555" opacity="0.35" filter="url(#b6)"/>
<ellipse cx="358.5" cy="26.0" rx="0.77" ry="0.78" fill="#555" opacity="0.35" filter="url(#b6)"/>
<ellipse cx="349.9" cy="47.3" rx="0.56" ry="0.55" fill="#555" opacity="0.35" filter="url(#b6)"/>
<ellipse cx="324.9" cy="29.7" rx="0.75" ry="0.81" fill="#555" opacity="0.35" filter="url(#b6)"/>
<ellipse cx="334.4" cy="59.5" rx="0.96" ry="0.81" fill="#555" opacity="0.35" filter="url(#b6)"/>
<ellipse cx="316.8" cy="52.4" rx="0.74" ry="0.61" fill="#555" opacity="0.35" filter="url(#b6)"/>
<ellipse cx="351.1" cy="42.6" rx="0.56" ry="0.71" fill="#555" opacity="0.35" filter="url(#b6)"/>
<ellipse cx="339.6" cy="51.7" rx="0.74" ry="0.93" fill="#555" opacity="0.35" filter="url(#b6)"/>
<ellipse cx="328.7" cy="36.9" rx="0.82" ry="0.88" fill="#555" opacity="0.35" filter="url(#b6)"/>
<ellipse cx="335.2" cy="31.8" rx="0.52" ry="0.66" fill="#555" opacity="0.35" filter="url(#b6)"/>
<ellipse cx="347.2" cy="74.0" rx="0.91" ry="1.16" fill="#555" opacity="0.35" filter="url(#b6)"/>
<ellipse cx="314.8" cy="32.3" rx="0.82" ry="0.79" fill="#555" opacity="0.35" filter="url(#b6)"/>
<ellipse cx="310.6" cy="45.0" rx="0.71" ry="0.82" fill="#555" opacity="0.35" filter="url(#b6)"/>
<ellipse cx="354.4" cy="29.2" rx="0.79" ry="0.82" fill="#555" opacity="0.35" filter="url(#b6)"/>
<ellipse cx="349.4" cy="72.9" rx="0.83" ry="0.99" fill="#555" opacity="0.35" filter="url(#b6)"/>
<ellipse cx="346.3" cy="54.3" rx="0.88" ry="0.86" fill="#555" opacity="0.35" filter="url(#b6)"/>
<ellipse cx="336.7" cy="63.6" rx="0.78" ry="0.83" fill="#555" opacity="0.35" filter="url(#b6)"/>
<ellipse cx="341.1" cy="32.3" rx="0.84" ry="0.84" fill="#555" opacity="0.35" filter="url(#b6)"/>
<ellipse cx="311.1" cy="45.6" rx="0.79" ry="0.61" fill="#555" opacity="0.35" filter="url(#b6)"/>
<ellipse cx="331.7" cy="62.7" rx="0.49" ry="0.44" fill="#555" opacity="0.35" filter="url(#b6)"/>
<ellipse cx="356.1" cy="39.7" rx="0.48" ry="0.50" fill="#555" opacity="0.35" filter="url(#b6)"/>
<ellipse cx="351.9" cy="30.7" rx="0.47" ry="0.42" fill="#555" opacity="0.35" filter="url(#b6)"/>
<ellipse cx="353.6" cy="62.2" rx="0.72" ry="0.62" fill="#555" opacity="0.35" filter="url(#b6)"/>
<ellipse cx="352.6" cy="36.9" rx="0.93" ry="0.69" fill="#555" opacity="0.35" filter="url(#b6)"/>
<ellipse cx="351.0" cy="46.5" rx="0.74" ry="0.83" fill="#555" opacity="0.35" filter="url(#b6)"/>
<ellipse cx="340.6" cy="26.6" rx="0.81" ry="0.86" fill="#555" opacity="0.35" filter="url(#b6)"/>
<ellipse cx="338.0" cy="54.1" rx="0.74" ry="0.84" fill="#555" opacity="0.35" filter="url(#b6)"/>
<ellipse cx="346.8" cy="48.1" rx="0.70" ry="0.74" fill="#555" opacity="0.35" filter="url(#b6)"/>
<ellipse cx="348.3" cy="51.2" rx="0.57" ry="0.64" fill="#555" opacity="0.35" filter="url(#b6)"/>
<ellipse cx="327.9" cy="46.4" rx="0.67" ry="0.76" fill="#555" opacity="0.35" filter="url(#b6)"/>
<ellipse cx="326.7" cy="70.2" rx="0.85" ry="0.76" fill="#555" opacity="0.35" filter="url(#b6)"/>
<ellipse cx="309.7" cy="64.9" rx="0.60" ry="0.58" fill="#555" opacity="0.35" filter="url(#b6)"/>
<ellipse cx="356.7" cy="35.1" rx="0.91" ry="1.01" fill="#555" opacity="0.35" filter="url(#b6)"/>
<ellipse cx="329.8" cy="57.1" rx="0.52" ry="0.48" fill="#555" opacity="0.35" filter="url(#b6)"/>
<ellipse cx="312.2" cy="52.6" rx="0.80" ry="1.15" fill="#555" opacity="0.35" filter="url(#b6)"/>
<ellipse cx="326.1" cy="32.8" rx="0.48" ry="0.43" fill="#555" opacity="0.35" filter="url(#b6)"/>
<ellipse cx="339.0" cy="47.5" rx="0.67" ry="0.60" fill="#555" opacity="0.35" filter="url(#b6)"/>
<ellipse cx="355.4" cy="36.8" rx="0.93" ry="0.96" fill="#555" opacity="0.35" filter="url(#b6)"/>
<ellipse cx="319.8" cy="71.5" rx="0.61" ry="0.85" fill="#555" opacity="0.35" filter="url(#b6)"/>
<ellipse cx="327.3" cy="68.9" rx="0.50" ry="0.61" fill="#555" opacity="0.35" filter="url(#b6)"/>
<ellipse cx="342.3" cy="58.0" rx="0.78" ry="0.91" fill="#555" opacity="0.35" filter="url(#b6)"/>
<ellipse cx="340.2" cy="32.1" rx="0.75" ry="0.81" fill="#555" opacity="0.35" filter="url(#b6)"/>
<ellipse cx="318.1" cy="37.4" rx="0.67" ry="0.51" fill="#555" opacity="0.35" filter="url(#b6)"/>
<ellipse cx="334.1" cy="44.7" rx="0.80" ry="0.94" fill="#555" opacity="0.35" filter="url(#b6)"/>
<ellipse cx="358.5" cy="45.0" rx="0.88" ry="0.98" fill="#555" opacity="0.35" filter="url(#b6)"/>
<ellipse cx="327.2" cy="38.8" rx="0.59" ry="0.57" fill="#555" opacity="0.35" filter="url(#b6)"/>
<ellipse cx="360.2" cy="48.4" rx="0.63" ry="0.69" fill="#555" opacity="0.35" filter="url(#b6)"/>
<ellipse cx="342.8" cy="37.9" rx="0.87" ry="0.86" fill="#555" opacity="0.35" filter="url(#b6)"/>
<ellipse cx="347.2" cy="61.3" rx="0.44" ry="0.42" fill="#555" opacity="0.35" filter="url(#b6)"/>
<ellipse cx="336.2" cy="49.0" rx="0.57" ry="0.52" fill="#555" opacity="0.35" filter="url(#b6)"/>
<ellipse cx="353.7" cy="72.3" rx="0.97" ry="0.93" fill="#555" opacity="0.35" filter="url(#b6)"/>
<ellipse cx="340.8" cy="62.6" rx="0.82" ry="1.00" fill="#555" opacity="0.35" filter="url(#b6)"/>
<ellipse cx="317.5" cy="51.1" rx="0.85" ry="1.11" fill="#555" opacity="0.35" filter="url(#b6)"/>
<ellipse cx="338.3" cy="60.8" rx="0.47" ry="0.52" fill="#555" opacity="0.35" filter="url(#b6)"/>
<ellipse cx="345.2" cy="68.7" rx="0.79" ry="0.74" fill="#555" opacity="0.35" filter="url(#b6)"/>
<ellipse cx="339.4" cy="60.0" rx="0.88" ry="1.00" fill="#555" opacity="0.35" filter="url(#b6)"/>
<ellipse cx="329.8" cy="37.4" rx="0.51" ry="0.55" fill="#555" opacity="0.35" filter="url(#b6)"/>
<ellipse cx="339.9" cy="47.0" rx="0.87" ry="0.95" fill="#555" opacity="0.35" filter="url(#b6)"/>
<ellipse cx="342.8" cy="71.5" rx="0.65" ry="0.74" fill="#555" opacity="0.35" filter="url(#b6)"/>
<ellipse cx="326.6" cy="63.9" rx="0.57" ry="0.67" fill="#555" opacity="0.35" filter="url(#b6)"/>
<ellipse cx="343.1" cy="40.0" rx="0.76" ry="0.64" fill="#555" opacity="0.35" filter="url(#b6)"/>
<ellipse cx="352.3" cy="45.6" rx="0.71" ry="0.67" fill="#555" opacity="0.35" filter="url(#b6)"/>
<ellipse cx="359.9" cy="58.4" rx="0.63" ry="0.67" fill="#555" opacity="0.35" filter="url(#b6)"/>
<ellipse cx="312.3" cy="55.1" rx="1.07" ry="0.98" fill="#555" opacity="0.35" filter="url(#b6)"/>
<ellipse cx="315.8" cy="51.4" rx="0.85" ry="0.91" fill="#555" opacity="0.35" filter="url(#b6)"/>
<rect x="308.3" y="25" width="62" height="49" filter="url(#noise)" opacity="0.12"/>
</g>
<rect x="308.7" y="25.4" width="61.2" height="48.2" fill="none" stroke="#222" stroke-width="0.8" opacity="0.7"/>
<clipPath id="clip3"><rect x="373" y="25" width="62" height="49.2"/></clipPath>
<g clip-path="url(#clip3)">
<rect x="373" y="25" width="62" height="49.2" fill="#717171" stroke="none" stroke-width="1" />
<rect x="373" y="25" width="62" height="49.2" fill="url(#vig)" opacity="0.35"/>
<ellipse cx="387.8" cy="51.8" rx="1.14" ry="1.15" fill="#2c2c2c" opacity="0.6" filter="url(#b6)"/>
<ellipse cx="377.1" cy="25.6" rx="1.33" ry="1.31" fill="#2c2c2c" opacity="0.6" filter="url(#b6)"/>
<ellipse cx="434.7" cy="48.1" rx="1.46" ry="1.55" fill="#2c2c2c" opacity="0.6" filter="url(#b6)"/>
<ellipse cx="382.3" cy="56.2" rx="1.51" ry="1.64" fill="#2c2c2c" opacity="0.6" filter="url(#b6)"/>
<ellipse cx="414.6" cy="28.2" rx="1.46" ry="1.29" fill="#2c2c2c" opacity="0.6" filter="url(#b6)"/>
<ellipse cx="374.9" cy="67.6" rx="1.28" ry="1.36" fill="#2c2c2c" opacity="0.6" filter="url(#b6)"/>
<ellipse cx="417.3" cy="70.3" rx="1.25" ry="1.09" fill="#2c2c2c" opacity="0.6" filter="url(#b6)"/>
<ellipse cx="431.0" cy="68.2" rx="0.75" ry="0.78" fill="#2c2c2c" opacity="0.6" filter="url(#b6)"/>
<ellipse cx="432.9" cy="46.5" rx="1.20" ry="1.31" fill="#2c2c2c" opacity="0.6" filter="url(#b6)"/>
<ellipse cx="396.9" cy="42.3" rx="1.31" ry="1.47" fill="#2c2c2c" opacity="0.6" filter="url(#b6)"/>
<ellipse cx="415.3" cy="70.7" rx="1.78" ry="1.59" fill="#2c2c2c" opacity="0.6" filter="url(#b6)"/>
<ellipse cx="383.1" cy="67.3" rx="1.83" ry="1.62" fill="#2c2c2c" opacity="0.6" filter="url(#b6)"/>
<ellipse cx="417.3" cy="35.4" rx="1.51" ry="1.34" fill="#2c2c2c" opacity="0.6" filter="url(#b6)"/>
<ellipse cx="376.9" cy="67.0" rx="1.33" ry="1.78" fill="#2c2c2c" opacity="0.6" filter="url(#b6)"/>
<ellipse cx="398.4" cy="32.4" rx="1.15" ry="1.19" fill="#2c2c2c" opacity="0.6" filter="url(#b6)"/>
<ellipse cx="375.7" cy="55.2" rx="0.91" ry="0.78" fill="#2c2c2c" opacity="0.6" filter="url(#b6)"/>
<ellipse cx="427.6" cy="73.2" rx="1.44" ry="1.11" fill="#2c2c2c" opacity="0.6" filter="url(#b6)"/>
<ellipse cx="377.8" cy="54.5" rx="0.73" ry="0.79" fill="#2c2c2c" opacity="0.6" filter="url(#b6)"/>
<ellipse cx="410.8" cy="32.7" rx="0.96" ry="0.77" fill="#2c2c2c" opacity="0.6" filter="url(#b6)"/>
<ellipse cx="432.4" cy="69.1" rx="1.08" ry="1.11" fill="#2c2c2c" opacity="0.6" filter="url(#b6)"/>
<ellipse cx="412.9" cy="54.3" rx="1.31" ry="1.47" fill="#2c2c2c" opacity="0.6" filter="url(#b6)"/>
<ellipse cx="404.4" cy="46.2" rx="1.23" ry="1.27" fill="#2c2c2c" opacity="0.6" filter="url(#b6)"/>
<ellipse cx="433.6" cy="50.6" rx="1.00" ry="1.20" fill="#2c2c2c" opacity="0.6" filter="url(#b6)"/>
<ellipse cx="409.0" cy="26.0" rx="1.36" ry="1.07" fill="#2c2c2c" opacity="0.6" filter="url(#b6)"/>
<ellipse cx="411.9" cy="47.9" rx="1.26" ry="1.45" fill="#2c2c2c" opacity="0.6" filter="url(#b6)"/>
<ellipse cx="418.8" cy="26.1" rx="0.91" ry="1.01" fill="#2c2c2c" opacity="0.6" filter="url(#b6)"/>
<ellipse cx="388.6" cy="47.5" rx="1.18" ry="1.20" fill="#2c2c2c" opacity="0.6" filter="url(#b6)"/>
<ellipse cx="392.4" cy="43.2" rx="1.17" ry="1.21" fill="#2c2c2c" opacity="0.6" filter="url(#b6)"/>
<ellipse cx="420.9" cy="26.3" rx="1.37" ry="1.16" fill="#2c2c2c" opacity="0.6" filter="url(#b6)"/>
<ellipse cx="386.8" cy="64.5" rx="0.87" ry="0.97" fill="#2c2c2c" opacity="0.6" filter="url(#b6)"/>
<ellipse cx="416.3" cy="30.0" rx="0.99" ry="1.20" fill="#2c2c2c" opacity="0.6" filter="url(#b6)"/>
<ellipse cx="400.2" cy="67.1" rx="0.87" ry="0.99" fill="#2c2c2c" opacity="0.6" filter="url(#b6)"/>
<ellipse cx="427.9" cy="47.2" rx="0.83" ry="0.99" fill="#2c2c2c" opacity="0.6" filter="url(#b6)"/>
<ellipse cx="384.8" cy="64.7" rx="1.28" ry="1.34" fill="#2c2c2c" opacity="0.6" filter="url(#b6)"/>
<ellipse cx="423.0" cy="56.6" rx="1.36" ry="1.23" fill="#2c2c2c" opacity="0.6" filter="url(#b6)"/>
<ellipse cx="391.1" cy="64.1" rx="0.95" ry="0.98" fill="#2c2c2c" opacity="0.6" filter="url(#b6)"/>
<ellipse cx="399.0" cy="45.1" rx="1.33" ry="1.23" fill="#2c2c2c" opacity="0.6" filter="url(#b6)"/>
<ellipse cx="431.5" cy="68.3" rx="1.55" ry="1.88" fill="#2c2c2c" opacity="0.6" filter="url(#b6)"/>
<ellipse cx="430.5" cy="35.9" rx="1.58" ry="1.49" fill="#2c2c2c" opacity="0.6" filter="url(#b6)"/>
<ellipse cx="405.2" cy="39.2" rx="0.96" ry="0.89" fill="#2c2c2c" opacity="0.6" filter="url(#b6)"/>
<ellipse cx="409.5" cy="39.1" rx="1.18" ry="1.68" fill="#2c2c2c" opacity="0.6" filter="url(#b6)"/>
<ellipse cx="416.0" cy="70.5" rx="1.76" ry="1.56" fill="#2c2c2c" opacity="0.6" filter="url(#b6)"/>
<ellipse cx="373.8" cy="61.7" rx="0.86" ry="1.00" fill="#2c2c2c" opacity="0.6" filter="url(#b6)"/>
<ellipse cx="405.5" cy="45.4" rx="1.62" ry="1.45" fill="#2c2c2c" opacity="0.6" filter="url(#b6)"/>
<ellipse cx="388.7" cy="67.4" rx="1.32" ry="1.11" fill="#2c2c2c" opacity="0.6" filter="url(#b6)"/>
<ellipse cx="385.2" cy="51.3" rx="1.26" ry="1.62" fill="#2c2c2c" opacity="0.6" filter="url(#b6)"/>
<ellipse cx="430.1" cy="64.7" rx="1.17" ry="1.53" fill="#2c2c2c" opacity="0.6" filter="url(#b6)"/>
<ellipse cx="426.5" cy="27.5" rx="0.92" ry="1.03" fill="#2c2c2c" opacity="0.6" filter="url(#b6)"/>
<ellipse cx="399.2" cy="48.3" rx="1.14" ry="1.17" fill="#2c2c2c" opacity="0.6" filter="url(#b6)"/>
<ellipse cx="380.9" cy="31.1" rx="1.02" ry="0.98" fill="#2c2c2c" opacity="0.6" filter="url(#b6)"/>
<ellipse cx="378.3" cy="49.7" rx="0.97" ry="0.99" fill="#2c2c2c" opacity="0.6" filter="url(#b6)"/>
<ellipse cx="413.1" cy="53.9" rx="0.95" ry="1.01" fill="#2c2c2c" opacity="0.6" filter="url(#b6)"/>
<ellipse cx="380.7" cy="52.3" rx="1.31" ry="1.14" fill="#2c2c2c" opacity="0.6" filter="url(#b6)"/>
<ellipse cx="384.1" cy="43.4" rx="1.43" ry="1.22" fill="#2c2c2c" opacity="0.6" filter="url(#b6)"/>
<ellipse cx="422.7" cy="55.6" rx="1.09" ry="1.14" fill="#2c2c2c" opacity="0.6" filter="url(#b6)"/>
<ellipse cx="416.6" cy="45.7" rx="1.33" ry="1.22" fill="#2c2c2c" opacity="0.6" filter="url(#b6)"/>
<ellipse cx="406.2" cy="59.2" rx="0.83" ry="0.83" fill="#2c2c2c" opacity="0.6" filter="url(#b6)"/>
<ellipse cx="427.5" cy="71.1" rx="1.27" ry="1.23" fill="#2c2c2c" opacity="0.6" filter="url(#b6)"/>
<ellipse cx="389.3" cy="47.8" rx="1.01" ry="0.96" fill="#2c2c2c" opacity="0.6" filter="url(#b6)"/>
<ellipse cx="428.0" cy="64.0" rx="1.46" ry="1.37" fill="#2c2c2c" opacity="0.6" filter="url(#b6)"/>
<ellipse cx="379.4" cy="53.9" rx="0.69" ry="0.89" fill="#2c2c2c" opacity="0.6" filter="url(#b6)"/>
<ellipse cx="375.7" cy="29.5" rx="1.01" ry="0.77" fill="#2c2c2c" opacity="0.6" filter="url(#b6)"/>
<ellipse cx="374.5" cy="66.4" rx="1.02" ry="0.96" fill="#2c2c2c" opacity="0.6" filter="url(#b6)"/>
<ellipse cx="424.8" cy="71.9" rx="1.41" ry="1.03" fill="#2c2c2c" opacity="0.6" filter="url(#b6)"/>
<ellipse cx="420.6" cy="50.2" rx="1.16" ry="1.51" fill="#2c2c2c" opacity="0.6" filter="url(#b6)"/>
<ellipse cx="430.9" cy="28.0" rx="1.09" ry="1.20" fill="#2c2c2c" opacity="0.6" filter="url(#b6)"/>
<ellipse cx="388.0" cy="33.8" rx="1.05" ry="1.10" fill="#2c2c2c" opacity="0.6" filter="url(#b6)"/>
<ellipse cx="397.4" cy="43.1" rx="1.05" ry="1.08" fill="#2c2c2c" opacity="0.6" filter="url(#b6)"/>
<ellipse cx="378.2" cy="49.6" rx="1.52" ry="1.73" fill="#2c2c2c" opacity="0.6" filter="url(#b6)"/>
<ellipse cx="383.0" cy="59.0" rx="1.50" ry="1.41" fill="#2c2c2c" opacity="0.6" filter="url(#b6)"/>
<ellipse cx="403.0" cy="56.6" rx="1.31" ry="1.27" fill="#2c2c2c" opacity="0.6" filter="url(#b6)"/>
<ellipse cx="419.4" cy="70.1" rx="1.19" ry="1.32" fill="#2c2c2c" opacity="0.6" filter="url(#b6)"/>
<ellipse cx="384.5" cy="38.2" rx="0.99" ry="0.89" fill="#2c2c2c" opacity="0.6" filter="url(#b6)"/>
<ellipse cx="387.4" cy="59.0" rx="1.44" ry="1.69" fill="#2c2c2c" opacity="0.6" filter="url(#b6)"/>
<ellipse cx="398.6" cy="67.0" rx="1.15" ry="1.12" fill="#2c2c2c" opacity="0.6" filter="url(#b6)"/>
<ellipse cx="374.4" cy="48.6" rx="0.96" ry="1.04" fill="#2c2c2c" opacity="0.6" filter="url(#b6)"/>
<ellipse cx="393.0" cy="63.1" rx="1.09" ry="0.91" fill="#2c2c2c" opacity="0.6" filter="url(#b6)"/>
<ellipse cx="410.1" cy="48.0" rx="1.66" ry="1.50" fill="#2c2c2c" opacity="0.6" filter="url(#b6)"/>
<ellipse cx="402.8" cy="60.5" rx="1.43" ry="1.62" fill="#2c2c2c" opacity="0.6" filter="url(#b6)"/>
<ellipse cx="432.5" cy="48.0" rx="0.88" ry="1.07" fill="#2c2c2c" opacity="0.6" filter="url(#b6)"/>
<ellipse cx="414.9" cy="72.2" rx="1.33" ry="1.30" fill="#2c2c2c" opacity="0.6" filter="url(#b6)"/>
<ellipse cx="389.0" cy="34.2" rx="1.56" ry="1.58" fill="#2c2c2c" opacity="0.6" filter="url(#b6)"/>
<ellipse cx="388.8" cy="67.6" rx="1.02" ry="1.15" fill="#2c2c2c" opacity="0.6" filter="url(#b6)"/>
<ellipse cx="378.3" cy="29.6" rx="1.34" ry="1.38" fill="#2c2c2c" opacity="0.6" filter="url(#b6)"/>
<ellipse cx="409.0" cy="58.2" rx="0.75" ry="0.78" fill="#2c2c2c" opacity="0.6" filter="url(#b6)"/>
<ellipse cx="403.1" cy="35.3" rx="1.50" ry="1.21" fill="#2c2c2c" opacity="0.6" filter="url(#b6)"/>
<ellipse cx="406.8" cy="30.9" rx="1.09" ry="0.86" fill="#2c2c2c" opacity="0.6" filter="url(#b6)"/>
<ellipse cx="428.0" cy="69.7" rx="1.03" ry="0.83" fill="#2c2c2c" opacity="0.6" filter="url(#b6)"/>
<ellipse cx="420.9" cy="62.3" rx="1.11" ry="1.10" fill="#2c2c2c" opacity="0.6" filter="url(#b6)"/>
<ellipse cx="423.0" cy="38.1" rx="1.66" ry="1.50" fill="#2c2c2c" opacity="0.6" filter="url(#b6)"/>
<ellipse cx="406.2" cy="30.6" rx="1.12" ry="1.30" fill="#2c2c2c" opacity="0.6" filter="url(#b6)"/>
<ellipse cx="415.1" cy="52.9" rx="1.00" ry="1.00" fill="#2c2c2c" opacity="0.6" filter="url(#b6)"/>
<ellipse cx="384.1" cy="68.8" rx="1.12" ry="1.55" fill="#2c2c2c" opacity="0.6" filter="url(#b6)"/>
<ellipse cx="381.8" cy="41.3" rx="1.43" ry="1.41" fill="#2c2c2c" opacity="0.6" filter="url(#b6)"/>
<ellipse cx="413.1" cy="47.5" rx="0.91" ry="0.87" fill="#2c2c2c" opacity="0.6" filter="url(#b6)"/>
<ellipse cx="417.4" cy="62.1" rx="1.35" ry="1.16" fill="#2c2c2c" opacity="0.6" filter="url(#b6)"/>
<ellipse cx="389.5" cy="43.9" rx="1.22" ry="1.50" fill="#2c2c2c" opacity="0.6" filter="url(#b6)"/>
<ellipse cx="388.3" cy="62.8" rx="1.01" ry="1.04" fill="#2c2c2c" opacity="0.6" filter="url(#b6)"/>
<ellipse cx="406.6" cy="63.0" rx="1.23" ry="0.91" fill="#2c2c2c" opacity="0.6" filter="url(#b6)"/>
<ellipse cx="389.8" cy="29.9" rx="0.99" ry="0.97" fill="#2c2c2c" opacity="0.6" filter="url(#b6)"/>
<ellipse cx="384.5" cy="34.3" rx="1.24" ry="1.28" fill="#2c2c2c" opacity="0.6" filter="url(#b6)"/>
<ellipse cx="419.4" cy="54.1" rx="0.88" ry="0.80" fill="#2c2c2c" opacity="0.6" filter="url(#b6)"/>
<ellipse cx="405.7" cy="53.0" rx="0.87" ry="1.07" fill="#2c2c2c" opacity="0.6" filter="url(#b6)"/>
<ellipse cx="374.9" cy="64.5" rx="1.78" ry="1.44" fill="#2c2c2c" opacity="0.6" filter="url(#b6)"/>
<ellipse cx="407.3" cy="53.7" rx="1.56" ry="1.40" fill="#2c2c2c" opacity="0.6" filter="url(#b6)"/>
<ellipse cx="391.6" cy="67.3" rx="1.24" ry="1.29" fill="#2c2c2c" opacity="0.6" filter="url(#b6)"/>
<ellipse cx="373.1" cy="62.9" rx="1.33" ry="1.34" fill="#2c2c2c" opacity="0.6" filter="url(#b6)"/>
<ellipse cx="401.6" cy="34.5" rx="1.00" ry="1.22" fill="#2c2c2c" opacity="0.6" filter="url(#b6)"/>
<ellipse cx="413.0" cy="46.9" rx="1.48" ry="1.45" fill="#2c2c2c" opacity="0.6" filter="url(#b6)"/>
<ellipse cx="381.4" cy="64.0" rx="1.07" ry="1.23" fill="#2c2c2c" opacity="0.6" filter="url(#b6)"/>
<ellipse cx="387.5" cy="28.8" rx="1.44" ry="1.14" fill="#2c2c2c" opacity="0.6" filter="url(#b6)"/>
<ellipse cx="427.0" cy="59.2" rx="1.04" ry="0.94" fill="#2c2c2c" opacity="0.6" filter="url(#b6)"/>
<ellipse cx="430.5" cy="60.2" rx="1.30" ry="1.56" fill="#2c2c2c" opacity="0.6" filter="url(#b6)"/>
<ellipse cx="430.8" cy="67.4" rx="1.27" ry="1.14" fill="#2c2c2c" opacity="0.6" filter="url(#b6)"/>
<ellipse cx="379.8" cy="27.1" rx="0.76" ry="0.75" fill="#2c2c2c" opacity="0.6" filter="url(#b6)"/>
<ellipse cx="403.8" cy="59.4" rx="1.19" ry="1.30" fill="#2c2c2c" opacity="0.6" filter="url(#b6)"/>
<ellipse cx="391.9" cy="47.8" rx="1.35" ry="1.23" fill="#2c2c2c" opacity="0.6" filter="url(#b6)"/>
<ellipse cx="428.8" cy="60.4" rx="1.04" ry="1.11" fill="#2c2c2c" opacity="0.6" filter="url(#b6)"/>
<ellipse cx="410.0" cy="36.0" rx="0.71" ry="0.89" fill="#2c2c2c" opacity="0.6" filter="url(#b6)"/>
<ellipse cx="381.9" cy="47.6" rx="0.85" ry="0.83" fill="#2c2c2c" opacity="0.6" filter="url(#b6)"/>
<ellipse cx="398.0" cy="33.3" rx="0.69" ry="0.71" fill="#2c2c2c" opacity="0.6" filter="url(#b6)"/>
<ellipse cx="403.4" cy="27.9" rx="0.80" ry="0.79" fill="#2c2c2c" opacity="0.6" filter="url(#b6)"/>
<ellipse cx="416.6" cy="27.5" rx="1.08" ry="0.91" fill="#2c2c2c" opacity="0.6" filter="url(#b6)"/>
<ellipse cx="432.9" cy="35.8" rx="0.87" ry="0.76" fill="#2c2c2c" opacity="0.6" filter="url(#b6)"/>
<ellipse cx="411.6" cy="42.0" rx="0.74" ry="0.98" fill="#2c2c2c" opacity="0.6" filter="url(#b6)"/>
<ellipse cx="390.1" cy="63.8" rx="1.38" ry="1.08" fill="#2c2c2c" opacity="0.6" filter="url(#b6)"/>
<ellipse cx="388.5" cy="38.1" rx="1.53" ry="1.36" fill="#2c2c2c" opacity="0.6" filter="url(#b6)"/>
<ellipse cx="378.8" cy="58.6" rx="1.63" ry="1.26" fill="#2c2c2c" opacity="0.6" filter="url(#b6)"/>
<ellipse cx="374.9" cy="29.5" rx="0.76" ry="0.77" fill="#2c2c2c" opacity="0.6" filter="url(#b6)"/>
<ellipse cx="413.6" cy="69.3" rx="1.14" ry="0.95" fill="#2c2c2c" opacity="0.6" filter="url(#b6)"/>
<ellipse cx="422.8" cy="70.1" rx="1.26" ry="1.43" fill="#2c2c2c" opacity="0.6" filter="url(#b6)"/>
<ellipse cx="410.6" cy="71.6" rx="0.80" ry="0.99" fill="#2c2c2c" opacity="0.6" filter="url(#b6)"/>
<ellipse cx="380.1" cy="44.2" rx="1.14" ry="1.25" fill="#2c2c2c" opacity="0.6" filter="url(#b6)"/>
<ellipse cx="383.8" cy="61.4" rx="1.57" ry="1.42" fill="#2c2c2c" opacity="0.6" filter="url(#b6)"/>
<ellipse cx="430.3" cy="42.9" rx="1.01" ry="1.26" fill="#2c2c2c" opacity="0.6" filter="url(#b6)"/>
<ellipse cx="402.8" cy="38.3" rx="1.02" ry="0.98" fill="#2c2c2c" opacity="0.6" filter="url(#b6)"/>
<ellipse cx="417.1" cy="44.0" rx="1.02" ry="1.29" fill="#2c2c2c" opacity="0.6" filter="url(#b6)"/>
<ellipse cx="374.4" cy="48.0" rx="1.51" ry="1.18" fill="#2c2c2c" opacity="0.6" filter="url(#b6)"/>
<ellipse cx="387.7" cy="66.5" rx="1.51" ry="1.51" fill="#2c2c2c" opacity="0.6" filter="url(#b6)"/>
<ellipse cx="400.9" cy="69.1" rx="1.29" ry="1.31" fill="#2c2c2c" opacity="0.6" filter="url(#b6)"/>
<ellipse cx="377.5" cy="44.6" rx="1.32" ry="1.61" fill="#2c2c2c" opacity="0.6" filter="url(#b6)"/>
<ellipse cx="379.8" cy="29.0" rx="1.18" ry="1.08" fill="#2c2c2c" opacity="0.6" filter="url(#b6)"/>
<ellipse cx="382.5" cy="56.7" rx="1.02" ry="1.13" fill="#2c2c2c" opacity="0.6" filter="url(#b6)"/>
<ellipse cx="433.0" cy="35.8" rx="1.21" ry="1.39" fill="#2c2c2c" opacity="0.6" filter="url(#b6)"/>
<ellipse cx="410.5" cy="63.8" rx="1.07" ry="1.07" fill="#2c2c2c" opacity="0.6" filter="url(#b6)"/>
<ellipse cx="377.9" cy="65.6" rx="0.72" ry="1.06" fill="#2c2c2c" opacity="0.6" filter="url(#b6)"/>
<ellipse cx="385.4" cy="68.9" rx="0.86" ry="0.77" fill="#2c2c2c" opacity="0.6" filter="url(#b6)"/>
<ellipse cx="424.4" cy="55.3" rx="1.45" ry="1.51" fill="#2c2c2c" opacity="0.6" filter="url(#b6)"/>
<ellipse cx="394.5" cy="54.7" rx="0.98" ry="1.31" fill="#2c2c2c" opacity="0.6" filter="url(#b6)"/>
<ellipse cx="409.9" cy="65.1" rx="0.98" ry="0.95" fill="#2c2c2c" opacity="0.6" filter="url(#b6)"/>
<ellipse cx="418.1" cy="28.8" rx="1.07" ry="0.89" fill="#2c2c2c" opacity="0.6" filter="url(#b6)"/>
<ellipse cx="407.3" cy="61.2" rx="1.21" ry="1.19" fill="#2c2c2c" opacity="0.6" filter="url(#b6)"/>
<ellipse cx="386.3" cy="42.2" rx="1.49" ry="1.55" fill="#2c2c2c" opacity="0.6" filter="url(#b6)"/>
<ellipse cx="378.2" cy="35.7" rx="1.09" ry="1.02" fill="#2c2c2c" opacity="0.6" filter="url(#b6)"/>
<ellipse cx="427.2" cy="73.5" rx="1.51" ry="1.31" fill="#2c2c2c" opacity="0.6" filter="url(#b6)"/>
<ellipse cx="399.0" cy="71.6" rx="1.80" ry="1.51" fill="#2c2c2c" opacity="0.6" filter="url(#b6)"/>
<ellipse cx="421.0" cy="45.0" rx="1.87" ry="1.46" fill="#2c2c2c" opacity="0.6" filter="url(#b6)"/>
<ellipse cx="430.9" cy="34.1" rx="0.95" ry="0.80" fill="#2c2c2c" opacity="0.6" filter="url(#b6)"/>
<ellipse cx="405.2" cy="56.5" rx="0.91" ry="0.76" fill="#2c2c2c" opacity="0.6" filter="url(#b6)"/>
<ellipse cx="399.8" cy="42.0" rx="1.53" ry="1.28" fill="#2c2c2c" opacity="0.6" filter="url(#b6)"/>
<ellipse cx="379.4" cy="39.7" rx="0.94" ry="0.97" fill="#2c2c2c" opacity="0.6" filter="url(#b6)"/>
<ellipse cx="420.3" cy="59.5" rx="1.88" ry="1.82" fill="#2c2c2c" opacity="0.6" filter="url(#b6)"/>
<ellipse cx="396.1" cy="32.9" rx="1.03" ry="1.06" fill="#2c2c2c" opacity="0.6" filter="url(#b6)"/>
<ellipse cx="406.6" cy="42.7" rx="1.35" ry="1.46" fill="#2c2c2c" opacity="0.6" filter="url(#b6)"/>
<ellipse cx="428.0" cy="64.7" rx="0.93" ry="1.17" fill="#2c2c2c" opacity="0.6" filter="url(#b6)"/>
<ellipse cx="373.6" cy="31.5" rx="1.24" ry="1.06" fill="#2c2c2c" opacity="0.6" filter="url(#b6)"/>
<ellipse cx="376.1" cy="35.0" rx="1.40" ry="1.69" fill="#2c2c2c" opacity="0.6" filter="url(#b6)"/>
<ellipse cx="421.7" cy="73.2" rx="0.72" ry="0.67" fill="#2c2c2c" opacity="0.6" filter="url(#b6)"/>
<ellipse cx="399.8" cy="41.6" rx="0.86" ry="0.70" fill="#2c2c2c" opacity="0.6" filter="url(#b6)"/>
<ellipse cx="392.3" cy="37.2" rx="1.39" ry="1.30" fill="#2c2c2c" opacity="0.6" filter="url(#b6)"/>
<ellipse cx="375.7" cy="46.1" rx="1.39" ry="1.52" fill="#2c2c2c" opacity="0.6" filter="url(#b6)"/>
<ellipse cx="423.1" cy="37.2" rx="1.00" ry="1.01" fill="#2c2c2c" opacity="0.6" filter="url(#b6)"/>
<ellipse cx="404.5" cy="65.9" rx="1.13" ry="1.08" fill="#2c2c2c" opacity="0.6" filter="url(#b6)"/>
<ellipse cx="374.1" cy="56.6" rx="1.76" ry="1.50" fill="#2c2c2c" opacity="0.6" filter="url(#b6)"/>
<ellipse cx="414.3" cy="70.7" rx="1.51" ry="1.40" fill="#2c2c2c" opacity="0.6" filter="url(#b6)"/>
<ellipse cx="405.1" cy="33.4" rx="1.02" ry="1.13" fill="#2c2c2c" opacity="0.6" filter="url(#b6)"/>
<ellipse cx="406.9" cy="45.1" rx="1.06" ry="1.21" fill="#2c2c2c" opacity="0.6" filter="url(#b6)"/>
<ellipse cx="401.1" cy="72.2" rx="0.86" ry="0.93" fill="#2c2c2c" opacity="0.6" filter="url(#b6)"/>
<ellipse cx="398.5" cy="66.9" rx="1.71" ry="1.53" fill="#2c2c2c" opacity="0.6" filter="url(#b6)"/>
<ellipse cx="374.9" cy="53.3" rx="1.23" ry="1.13" fill="#2c2c2c" opacity="0.6" filter="url(#b6)"/>
<ellipse cx="417.0" cy="69.9" rx="0.94" ry="0.84" fill="#2c2c2c" opacity="0.6" filter="url(#b6)"/>
<ellipse cx="404.9" cy="69.1" rx="1.66" ry="1.38" fill="#2c2c2c" opacity="0.6" filter="url(#b6)"/>
<ellipse cx="430.1" cy="33.9" rx="1.25" ry="1.03" fill="#2c2c2c" opacity="0.6" filter="url(#b6)"/>
<ellipse cx="389.8" cy="71.7" rx="1.44" ry="1.49" fill="#2c2c2c" opacity="0.6" filter="url(#b6)"/>
<ellipse cx="390.5" cy="31.5" rx="1.19" ry="0.83" fill="#2c2c2c" opacity="0.6" filter="url(#b6)"/>
<ellipse cx="387.2" cy="34.8" rx="0.87" ry="0.95" fill="#2c2c2c" opacity="0.6" filter="url(#b6)"/>
<ellipse cx="425.0" cy="56.1" rx="1.17" ry="1.33" fill="#2c2c2c" opacity="0.6" filter="url(#b6)"/>
<ellipse cx="432.6" cy="28.4" rx="1.01" ry="0.92" fill="#2c2c2c" opacity="0.6" filter="url(#b6)"/>
<ellipse cx="406.9" cy="27.3" rx="1.17" ry="0.85" fill="#2c2c2c" opacity="0.6" filter="url(#b6)"/>
<ellipse cx="429.1" cy="33.8" rx="1.71" ry="1.69" fill="#2c2c2c" opacity="0.6" filter="url(#b6)"/>
<ellipse cx="381.8" cy="27.7" rx="1.23" ry="1.23" fill="#2c2c2c" opacity="0.6" filter="url(#b6)"/>
<ellipse cx="424.0" cy="68.0" rx="0.99" ry="0.85" fill="#2c2c2c" opacity="0.6" filter="url(#b6)"/>
<ellipse cx="396.7" cy="30.3" rx="1.33" ry="1.01" fill="#2c2c2c" opacity="0.6" filter="url(#b6)"/>
<ellipse cx="381.1" cy="32.1" rx="0.85" ry="1.05" fill="#2c2c2c" opacity="0.6" filter="url(#b6)"/>
<ellipse cx="377.8" cy="34.4" rx="1.86" ry="1.85" fill="#2c2c2c" opacity="0.6" filter="url(#b6)"/>
<ellipse cx="388.2" cy="42.4" rx="1.55" ry="1.69" fill="#2c2c2c" opacity="0.6" filter="url(#b6)"/>
<ellipse cx="392.4" cy="26.1" rx="1.18" ry="1.20" fill="#2c2c2c" opacity="0.6" filter="url(#b6)"/>
<ellipse cx="408.3" cy="47.8" rx="1.20" ry="1.25" fill="#2c2c2c" opacity="0.6" filter="url(#b6)"/>
<ellipse cx="424.6" cy="34.9" rx="1.50" ry="1.45" fill="#2c2c2c" opacity="0.6" filter="url(#b6)"/>
<ellipse cx="384.1" cy="72.4" rx="1.28" ry="1.33" fill="#2c2c2c" opacity="0.6" filter="url(#b6)"/>
<ellipse cx="385.5" cy="27.6" rx="1.53" ry="1.82" fill="#2c2c2c" opacity="0.6" filter="url(#b6)"/>
<ellipse cx="380.1" cy="25.7" rx="1.67" ry="1.79" fill="#2c2c2c" opacity="0.6" filter="url(#b6)"/>
<ellipse cx="415.5" cy="50.8" rx="1.18" ry="1.44" fill="#2c2c2c" opacity="0.6" filter="url(#b6)"/>
<ellipse cx="400.4" cy="32.2" rx="1.19" ry="1.28" fill="#2c2c2c" opacity="0.6" filter="url(#b6)"/>
<ellipse cx="396.2" cy="40.7" rx="1.13" ry="1.30" fill="#2c2c2c" opacity="0.6" filter="url(#b6)"/>
<ellipse cx="431.0" cy="67.4" rx="1.34" ry="1.75" fill="#2c2c2c" opacity="0.6" filter="url(#b6)"/>
<ellipse cx="389.7" cy="31.1" rx="1.31" ry="1.12" fill="#2c2c2c" opacity="0.6" filter="url(#b6)"/>
<ellipse cx="413.0" cy="38.9" rx="1.54" ry="1.56" fill="#2c2c2c" opacity="0.6" filter="url(#b6)"/>
<ellipse cx="405.9" cy="68.0" rx="1.61" ry="1.55" fill="#2c2c2c" opacity="0.6" filter="url(#b6)"/>
<ellipse cx="411.3" cy="28.4" rx="1.30" ry="1.27" fill="#2c2c2c" opacity="0.6" filter="url(#b6)"/>
<ellipse cx="376.7" cy="67.0" rx="1.32" ry="1.05" fill="#2c2c2c" opacity="0.6" filter="url(#b6)"/>
<ellipse cx="386.3" cy="52.0" rx="1.47" ry="1.73" fill="#2c2c2c" opacity="0.6" filter="url(#b6)"/>
<ellipse cx="417.1" cy="42.8" rx="1.04" ry="1.00" fill="#2c2c2c" opacity="0.6" filter="url(#b6)"/>
<ellipse cx="396.1" cy="57.1" rx="1.55" ry="1.29" fill="#2c2c2c" opacity="0.6" filter="url(#b6)"/>
<ellipse cx="386.6" cy="43.2" rx="1.11" ry="1.08" fill="#2c2c2c" opacity="0.6" filter="url(#b6)"/>
<ellipse cx="392.9" cy="38.9" rx="0.84" ry="0.96" fill="#2c2c2c" opacity="0.6" filter="url(#b6)"/>
<ellipse cx="406.1" cy="61.3" rx="1.66" ry="1.70" fill="#2c2c2c" opacity="0.6" filter="url(#b6)"/>
<ellipse cx="400.4" cy="58.6" rx="1.03" ry="0.85" fill="#2c2c2c" opacity="0.6" filter="url(#b6)"/>
<ellipse cx="402.5" cy="68.8" rx="0.90" ry="1.16" fill="#2c2c2c" opacity="0.6" filter="url(#b6)"/>
<ellipse cx="410.1" cy="29.2" rx="0.77" ry="0.66" fill="#2c2c2c" opacity="0.6" filter="url(#b6)"/>
<ellipse cx="424.6" cy="34.0" rx="0.97" ry="1.02" fill="#2c2c2c" opacity="0.6" filter="url(#b6)"/>
<ellipse cx="399.8" cy="55.9" rx="1.29" ry="1.11" fill="#2c2c2c" opacity="0.6" filter="url(#b6)"/>
<ellipse cx="433.7" cy="59.0" rx="0.85" ry="0.95" fill="#2c2c2c" opacity="0.6" filter="url(#b6)"/>
<ellipse cx="434.5" cy="28.2" rx="0.80" ry="0.78" fill="#2c2c2c" opacity="0.6" filter="url(#b6)"/>
<ellipse cx="428.5" cy="65.7" rx="1.03" ry="1.10" fill="#2c2c2c" opacity="0.6" filter="url(#b6)"/>
<ellipse cx="427.8" cy="34.9" rx="0.93" ry="1.18" fill="#2c2c2c" opacity="0.6" filter="url(#b6)"/>
<ellipse cx="374.6" cy="71.0" rx="1.26" ry="1.02" fill="#2c2c2c" opacity="0.6" filter="url(#b6)"/>
<ellipse cx="387.4" cy="48.1" rx="1.51" ry="1.36" fill="#2c2c2c" opacity="0.6" filter="url(#b6)"/>
<ellipse cx="433.9" cy="57.5" rx="1.08" ry="1.12" fill="#2c2c2c" opacity="0.6" filter="url(#b6)"/>
<ellipse cx="428.8" cy="31.5" rx="1.28" ry="1.15" fill="#2c2c2c" opacity="0.6" filter="url(#b6)"/>
<ellipse cx="420.7" cy="69.8" rx="2.07" ry="1.66" fill="#2a2a2a" opacity="0.6" filter="url(#b6)"/>
<ellipse cx="376.7" cy="46.3" rx="1.27" ry="1.67" fill="#2a2a2a" opacity="0.6" filter="url(#b6)"/>
<ellipse cx="386.4" cy="65.5" rx="1.65" ry="2.27" fill="#2a2a2a" opacity="0.6" filter="url(#b6)"/>
<ellipse cx="397.6" cy="35.4" rx="1.10" ry="1.35" fill="#2a2a2a" opacity="0.6" filter="url(#b6)"/>
<ellipse cx="396.8" cy="66.9" rx="1.54" ry="1.79" fill="#2a2a2a" opacity="0.6" filter="url(#b6)"/>
<ellipse cx="397.1" cy="33.7" rx="1.27" ry="1.51" fill="#2a2a2a" opacity="0.6" filter="url(#b6)"/>
<ellipse cx="394.1" cy="30.5" rx="1.34" ry="1.41" fill="#2a2a2a" opacity="0.6" filter="url(#b6)"/>
<ellipse cx="388.2" cy="59.4" rx="1.47" ry="1.43" fill="#2a2a2a" opacity="0.6" filter="url(#b6)"/>
<ellipse cx="383.9" cy="62.0" rx="1.54" ry="1.57" fill="#2a2a2a" opacity="0.6" filter="url(#b6)"/>
<ellipse cx="411.9" cy="46.8" rx="1.39" ry="1.42" fill="#2a2a2a" opacity="0.6" filter="url(#b6)"/>
<ellipse cx="403.4" cy="53.5" rx="1.64" ry="1.52" fill="#2a2a2a" opacity="0.6" filter="url(#b6)"/>
<ellipse cx="386.8" cy="65.2" rx="1.87" ry="2.38" fill="#2a2a2a" opacity="0.6" filter="url(#b6)"/>
<ellipse cx="403.0" cy="33.8" rx="1.66" ry="1.94" fill="#2a2a2a" opacity="0.6" filter="url(#b6)"/>
<ellipse cx="409.2" cy="30.3" rx="1.85" ry="1.61" fill="#2a2a2a" opacity="0.6" filter="url(#b6)"/>
<ellipse cx="406.4" cy="67.5" rx="1.55" ry="1.61" fill="#2a2a2a" opacity="0.6" filter="url(#b6)"/>
<ellipse cx="424.1" cy="35.0" rx="1.41" ry="1.30" fill="#2a2a2a" opacity="0.6" filter="url(#b6)"/>
<ellipse cx="391.8" cy="68.9" rx="1.94" ry="2.28" fill="#2a2a2a" opacity="0.6" filter="url(#b6)"/>
<ellipse cx="424.8" cy="61.8" rx="1.15" ry="1.54" fill="#2a2a2a" opacity="0.6" filter="url(#b6)"/>
<ellipse cx="418.6" cy="42.3" rx="1.63" ry="1.42" fill="#2a2a2a" opacity="0.6" filter="url(#b6)"/>
<ellipse cx="416.3" cy="52.7" rx="1.27" ry="1.54" fill="#2a2a2a" opacity="0.6" filter="url(#b6)"/>
<ellipse cx="392.8" cy="60.7" rx="1.28" ry="1.18" fill="#2a2a2a" opacity="0.6" filter="url(#b6)"/>
<ellipse cx="398.3" cy="53.4" rx="1.06" ry="1.28" fill="#2a2a2a" opacity="0.6" filter="url(#b6)"/>
<ellipse cx="385.5" cy="49.9" rx="1.12" ry="1.35" fill="#2a2a2a" opacity="0.6" filter="url(#b6)"/>
<ellipse cx="430.2" cy="67.7" rx="1.55" ry="1.33" fill="#2a2a2a" opacity="0.6" filter="url(#b6)"/>
<ellipse cx="390.1" cy="40.5" rx="1.65" ry="2.30" fill="#2a2a2a" opacity="0.6" filter="url(#b6)"/>
<ellipse cx="402.6" cy="46.4" rx="1.67" ry="1.23" fill="#2a2a2a" opacity="0.6" filter="url(#b6)"/>
<ellipse cx="408.4" cy="50.1" rx="1.21" ry="1.62" fill="#2a2a2a" opacity="0.6" filter="url(#b6)"/>
<ellipse cx="422.0" cy="61.1" rx="1.61" ry="2.08" fill="#2a2a2a" opacity="0.6" filter="url(#b6)"/>
<ellipse cx="419.5" cy="36.1" rx="1.86" ry="1.46" fill="#2a2a2a" opacity="0.6" filter="url(#b6)"/>
<ellipse cx="420.3" cy="33.1" rx="1.57" ry="1.74" fill="#2a2a2a" opacity="0.6" filter="url(#b6)"/>
<ellipse cx="396.1" cy="67.8" rx="1.80" ry="1.93" fill="#2a2a2a" opacity="0.6" filter="url(#b6)"/>
<ellipse cx="399.5" cy="64.6" rx="1.43" ry="1.45" fill="#2a2a2a" opacity="0.6" filter="url(#b6)"/>
<ellipse cx="397.1" cy="27.3" rx="1.41" ry="1.18" fill="#2a2a2a" opacity="0.6" filter="url(#b6)"/>
<ellipse cx="420.0" cy="49.8" rx="2.24" ry="2.14" fill="#2a2a2a" opacity="0.6" filter="url(#b6)"/>
<ellipse cx="396.1" cy="27.1" rx="1.81" ry="1.92" fill="#2a2a2a" opacity="0.6" filter="url(#b6)"/>
<ellipse cx="385.6" cy="32.8" rx="2.17" ry="1.97" fill="#2a2a2a" opacity="0.6" filter="url(#b6)"/>
<ellipse cx="418.8" cy="32.4" rx="1.75" ry="1.70" fill="#2a2a2a" opacity="0.6" filter="url(#b6)"/>
<ellipse cx="383.0" cy="31.7" rx="1.96" ry="1.45" fill="#2a2a2a" opacity="0.6" filter="url(#b6)"/>
<ellipse cx="373.4" cy="29.1" rx="1.75" ry="1.80" fill="#2a2a2a" opacity="0.6" filter="url(#b6)"/>
<ellipse cx="434.6" cy="55.1" rx="1.52" ry="1.13" fill="#2a2a2a" opacity="0.6" filter="url(#b6)"/>
<ellipse cx="390.5" cy="59.4" rx="1.09" ry="1.35" fill="#2a2a2a" opacity="0.6" filter="url(#b6)"/>
<ellipse cx="393.3" cy="72.8" rx="1.44" ry="1.22" fill="#2a2a2a" opacity="0.6" filter="url(#b6)"/>
<ellipse cx="422.9" cy="46.9" rx="1.61" ry="1.54" fill="#2a2a2a" opacity="0.6" filter="url(#b6)"/>
<ellipse cx="401.1" cy="64.4" rx="1.32" ry="1.43" fill="#2a2a2a" opacity="0.6" filter="url(#b6)"/>
<ellipse cx="378.9" cy="40.5" rx="1.69" ry="1.72" fill="#2a2a2a" opacity="0.6" filter="url(#b6)"/>
<ellipse cx="391.0" cy="26.2" rx="1.14" ry="1.07" fill="#2a2a2a" opacity="0.6" filter="url(#b6)"/>
<ellipse cx="408.3" cy="38.1" rx="1.88" ry="1.93" fill="#2a2a2a" opacity="0.6" filter="url(#b6)"/>
<ellipse cx="418.6" cy="50.7" rx="1.42" ry="1.27" fill="#2a2a2a" opacity="0.6" filter="url(#b6)"/>
<ellipse cx="422.3" cy="49.6" rx="1.50" ry="1.32" fill="#2a2a2a" opacity="0.6" filter="url(#b6)"/>
<ellipse cx="411.7" cy="46.6" rx="1.56" ry="1.13" fill="#2a2a2a" opacity="0.6" filter="url(#b6)"/>
<rect x="373" y="25" width="62" height="49.2" filter="url(#noise)" opacity="0.12"/>
</g>
<rect x="373.4" y="25.4" width="61.2" height="48.400000000000006" fill="none" stroke="#222" stroke-width="0.8" opacity="0.7"/>
<clipPath id="clip4"><rect x="243.2" y="78" width="62.3" height="49.2"/></clipPath>
<g clip-path="url(#clip4)">
<rect x="243.2" y="78" width="62.3" height="49.2" fill="#666666" stroke="none" stroke-width="1" />
<rect x="243.2" y="78" width="62.3" height="49.2" fill="url(#vig)" opacity="0.55"/>
<rect x="243.2" y="78" width="62.3" height="49.2" filter="url(#noise)" opacity="0.06"/>
</g>
<rect x="243.6" y="78.4" width="61.5" height="48.400000000000006" fill="none" stroke="#222" stroke-width="0.8" opacity="0.7"/>
<clipPath id="clip5"><rect x="308.3" y="78" width="62" height="49.2"/></clipPath>
<g clip-path="url(#clip5)">
<rect x="308.3" y="78" width="62" height="49.2" fill="#636363" stroke="none" stroke-width="1" />
<rect x="308.3" y="78" width="62" height="49.2" fill="url(#vig)" opacity="0.55"/>
<rect x="308.3" y="78" width="62" height="49.2" filter="url(#noise)" opacity="0.06"/>
</g>
<rect x="308.7" y="78.4" width="61.2" height="48.400000000000006" fill="none" stroke="#222" stroke-width="0.8" opacity="0.7"/>
<clipPath id="clip6"><rect x="373" y="78" width="62" height="49.2"/></clipPath>
<g clip-path="url(#clip6)">
<rect x="373" y="78" width="62" height="49.2" fill="#646464" stroke="none" stroke-width="1" />
<rect x="373" y="78" width="62" height="49.2" fill="url(#vig)" opacity="0.55"/>
<rect x="373" y="78" width="62" height="49.2" filter="url(#noise)" opacity="0.06"/>
</g>
<rect x="373.4" y="78.4" width="61.2" height="48.400000000000006" fill="none" stroke="#222" stroke-width="0.8" opacity="0.7"/>
<circle cx="258.2" cy="108.7" r="1.5" fill="#2a2a2a" opacity="0.85" filter="url(#b6)"/>
<circle cx="272.3" cy="109.3" r="1.7" fill="#2a2a2a" opacity="0.9" filter="url(#b6)"/>
<circle cx="290" cy="99.6" r="1.4" fill="#2a2a2a" opacity="0.85" filter="url(#b6)"/>
<circle cx="341.9" cy="93.5" r="0.9" fill="#2a2a2a" opacity="0.4" filter="url(#b6)"/>
<circle cx="342.7" cy="110.4" r="1.4" fill="#2a2a2a" opacity="0.8" filter="url(#b6)"/>
<circle cx="398" cy="91.7" r="1.7" fill="#2a2a2a" opacity="0.9" filter="url(#b6)"/>
<circle cx="389.4" cy="98.7" r="1.0" fill="#2a2a2a" opacity="0.35" filter="url(#b6)"/>
<circle cx="409.7" cy="101.3" r="1.3" fill="#2a2a2a" opacity="0.6" filter="url(#b6)"/>
<line x1="279.5" y1="131.5" x2="279.5" y2="248.0" stroke="#444" stroke-width="1" />
<line x1="277.0" y1="245.5" x2="427.5" y2="245.5" stroke="#444" stroke-width="1" />
<line x1="277.0" y1="245.5" x2="279.5" y2="245.5" stroke="#555" stroke-width="0.8" />
<text x="273.5" y="248.2" font-size="7.6" font-weight="bold" text-anchor="end" fill="#111" >0</text>
<line x1="277.0" y1="226.52" x2="279.5" y2="226.52" stroke="#555" stroke-width="0.8" />
<text x="273.5" y="229.22" font-size="7.6" font-weight="bold" text-anchor="end" fill="#111" >20</text>
<line x1="277.0" y1="207.54" x2="279.5" y2="207.54" stroke="#555" stroke-width="0.8" />
<text x="273.5" y="210.23999999999998" font-size="7.6" font-weight="bold" text-anchor="end" fill="#111" >40</text>
<line x1="277.0" y1="188.56" x2="279.5" y2="188.56" stroke="#555" stroke-width="0.8" />
<text x="273.5" y="191.26" font-size="7.6" font-weight="bold" text-anchor="end" fill="#111" >60</text>
<line x1="277.0" y1="169.57999999999998" x2="279.5" y2="169.57999999999998" stroke="#555" stroke-width="0.8" />
<text x="273.5" y="172.27999999999997" font-size="7.6" font-weight="bold" text-anchor="end" fill="#111" >80</text>
<line x1="277.0" y1="150.6" x2="279.5" y2="150.6" stroke="#555" stroke-width="0.8" />
<text x="273.5" y="153.29999999999998" font-size="7.6" font-weight="bold" text-anchor="end" fill="#111" >100</text>
<line x1="277.0" y1="131.62" x2="279.5" y2="131.62" stroke="#555" stroke-width="0.8" />
<text x="273.5" y="134.32" font-size="7.6" font-weight="bold" text-anchor="end" fill="#111" >120</text>
<line x1="328.5" y1="245.5" x2="328.5" y2="248.0" stroke="#555" stroke-width="0.8" />
<line x1="378" y1="245.5" x2="378" y2="248.0" stroke="#555" stroke-width="0.8" />
<text x="251.8" y="182.5" font-size="8.4" font-weight="bold" text-anchor="middle" fill="#000" textLength="83" lengthAdjust="spacingAndGlyphs" transform="rotate(-90 251.8 182.5)" >Number of Colonies/</text>
<text x="262.3" y="181.4" font-size="8.4" font-weight="bold" text-anchor="middle" fill="#000" textLength="34.3" lengthAdjust="spacingAndGlyphs" transform="rotate(-90 262.3 181.4)" >10X field</text>
<rect x="290.45000000000005" y="219" width="13.6" height="26.5" fill="#8a8a8a" stroke="#3a3a3a" stroke-width="0.7" />
<rect x="304.40000000000003" y="243.5" width="13.7" height="2" fill="#111" stroke="none" stroke-width="1" />
<line x1="297.20000000000005" y1="216.5" x2="297.20000000000005" y2="221.6" stroke="#222" stroke-width="0.8" />
<line x1="295.20000000000005" y1="216.5" x2="299.20000000000005" y2="216.5" stroke="#222" stroke-width="0.8" />
<line x1="295.20000000000005" y1="221.6" x2="299.20000000000005" y2="221.6" stroke="#222" stroke-width="0.8" />
<line x1="311.3" y1="242.5" x2="311.3" y2="244.0" stroke="#222" stroke-width="0.6" />
<line x1="310.1" y1="242.5" x2="312.5" y2="242.5" stroke="#222" stroke-width="0.6" />
<line x1="310.1" y1="244.0" x2="312.5" y2="244.0" stroke="#222" stroke-width="0.6" />
<rect x="339.45000000000005" y="169.6" width="13.6" height="75.9" fill="#8a8a8a" stroke="#3a3a3a" stroke-width="0.7" />
<rect x="353.40000000000003" y="243.5" width="13.7" height="2" fill="#111" stroke="none" stroke-width="1" />
<line x1="346.20000000000005" y1="162" x2="346.20000000000005" y2="178" stroke="#222" stroke-width="0.8" />
<line x1="344.20000000000005" y1="162" x2="348.20000000000005" y2="162" stroke="#222" stroke-width="0.8" />
<line x1="344.20000000000005" y1="178" x2="348.20000000000005" y2="178" stroke="#222" stroke-width="0.8" />
<line x1="360.3" y1="242.5" x2="360.3" y2="244.0" stroke="#222" stroke-width="0.6" />
<line x1="359.1" y1="242.5" x2="361.5" y2="242.5" stroke="#222" stroke-width="0.6" />
<line x1="359.1" y1="244.0" x2="361.5" y2="244.0" stroke="#222" stroke-width="0.6" />
<rect x="388.55" y="189.7" width="13.6" height="55.80000000000001" fill="#8a8a8a" stroke="#3a3a3a" stroke-width="0.7" />
<rect x="402.5" y="243.5" width="13.7" height="2" fill="#111" stroke="none" stroke-width="1" />
<line x1="395.3" y1="185.4" x2="395.3" y2="194" stroke="#222" stroke-width="0.8" />
<line x1="393.3" y1="185.4" x2="397.3" y2="185.4" stroke="#222" stroke-width="0.8" />
<line x1="393.3" y1="194" x2="397.3" y2="194" stroke="#222" stroke-width="0.8" />
<line x1="409.4" y1="242.5" x2="409.4" y2="244.0" stroke="#222" stroke-width="0.6" />
<line x1="408.2" y1="242.5" x2="410.59999999999997" y2="242.5" stroke="#222" stroke-width="0.6" />
<line x1="408.2" y1="244.0" x2="410.59999999999997" y2="244.0" stroke="#222" stroke-width="0.6" />
<text x="289.3" y="259.3" font-size="7.1" font-weight="bold" text-anchor="start" fill="#000" textLength="29.4" lengthAdjust="spacingAndGlyphs" >Rpl22+/+</text>
<text x="338.7" y="259.3" font-size="7.1" font-weight="bold" text-anchor="start" fill="#000" textLength="28.8" lengthAdjust="spacingAndGlyphs" >Rpl22+/-</text>
<text x="388.7" y="259.3" font-size="7.1" font-weight="bold" text-anchor="start" fill="#000" textLength="25.9" lengthAdjust="spacingAndGlyphs" >Rpl22-/-</text>
<rect x="369.8" y="134" width="3.5" height="3.7" fill="#8a8a8a" stroke="#333" stroke-width="0.6" />
<text x="374.5" y="139" font-size="7.6" font-weight="bold" text-anchor="start" fill="#000" textLength="51" lengthAdjust="spacingAndGlyphs" >control shRNA</text>
<rect x="370" y="143.6" width="3.3" height="3.3" fill="#111" stroke="none" stroke-width="1" />
<text x="374.5" y="148" font-size="7.6" font-weight="bold" text-anchor="start" fill="#000" textLength="50.5" lengthAdjust="spacingAndGlyphs" >Lin28B shRNA</text>
<line x1="300.3" y1="153.5" x2="393" y2="153.5" stroke="#444" stroke-width="0.9" />
<line x1="300.6" y1="153.5" x2="300.6" y2="155.5" stroke="#444" stroke-width="0.7" />
<line x1="392.7" y1="153.5" x2="392.7" y2="155.5" stroke="#444" stroke-width="0.7" />
<polygon points="342.40,146.70 343.02,148.35 344.78,148.43 343.40,149.52 343.87,151.22 342.40,150.25 340.93,151.22 341.40,149.52 340.02,148.43 341.78,148.35" fill="#111"/>
<polygon points="347.30,146.70 347.92,148.35 349.68,148.43 348.30,149.52 348.77,151.22 347.30,150.25 345.83,151.22 346.30,149.52 344.92,148.43 346.68,148.35" fill="#111"/>
<line x1="302.7" y1="163.3" x2="339" y2="163.3" stroke="#444" stroke-width="0.9" />
<line x1="303" y1="163.3" x2="303" y2="165" stroke="#444" stroke-width="0.7" />
<line x1="338.7" y1="163.3" x2="338.7" y2="165" stroke="#444" stroke-width="0.7" />
<polygon points="316.30,157.10 316.92,158.75 318.68,158.83 317.30,159.92 317.77,161.62 316.30,160.65 314.83,161.62 315.30,159.92 313.92,158.83 315.68,158.75" fill="#111"/>
<polygon points="321.70,157.10 322.32,158.75 324.08,158.83 322.70,159.92 323.17,161.62 321.70,160.65 320.23,161.62 320.70,159.92 319.32,158.83 321.08,158.75" fill="#111"/>
<path d="M349.7,164.3 L350.3,163 L362.5,163 L363.2,164.3" fill="none" stroke="#444" stroke-width="0.8"/>
<polygon points="352.90,157.00 353.52,158.65 355.28,158.73 353.90,159.82 354.37,161.52 352.90,160.55 351.43,161.52 351.90,159.82 350.52,158.73 352.28,158.65" fill="#111"/>
<polygon points="357.60,157.00 358.22,158.65 359.98,158.73 358.60,159.82 359.07,161.52 357.60,160.55 356.13,161.52 356.60,159.82 355.22,158.73 356.98,158.65" fill="#111"/>
<path d="M396.9,183.8 L398,182.5 L409.5,182.5 L410.4,184" fill="none" stroke="#444" stroke-width="0.8"/>
<polygon points="401.30,173.80 401.89,175.38 403.58,175.46 402.26,176.51 402.71,178.14 401.30,177.21 399.89,178.14 400.34,176.51 399.02,175.46 400.71,175.38" fill="#111"/>
<polygon points="406.70,173.80 407.29,175.38 408.98,175.46 407.66,176.51 408.11,178.14 406.70,177.21 405.29,178.14 405.74,176.51 404.42,175.46 406.11,175.38" fill="#111"/>
<path d="M296.3,213.4 L297,212.3 L309,212.3 L309.7,213.4" fill="none" stroke="#444" stroke-width="0.8"/>
<polygon points="301.20,203.50 301.82,205.15 303.58,205.23 302.20,206.32 302.67,208.02 301.20,207.05 299.73,208.02 300.20,206.32 298.82,205.23 300.58,205.15" fill="#111"/>
<polygon points="306.40,203.50 307.02,205.15 308.78,205.23 307.40,206.32 307.87,208.02 306.40,207.05 304.93,208.02 305.40,206.32 304.02,205.23 305.78,205.15" fill="#111"/>
<text x="264" y="281.7" font-size="16.5" font-weight="bold" text-anchor="start" fill="#000" >D</text>
<text x="372.5" y="279" font-size="7.8" font-weight="bold" text-anchor="start" fill="#000" textLength="74.8" lengthAdjust="spacingAndGlyphs" >Thymic Lymphomas</text>
<line x1="305.2" y1="282.3" x2="513.3" y2="282.3" stroke="#333" stroke-width="1.1" />
<text x="323.2" y="291" font-size="8.4" font-weight="bold" text-anchor="start" fill="#000" textLength="63" lengthAdjust="spacingAndGlyphs" >Akt tg Rpl22+/+</text>
<text x="433.8" y="291" font-size="8.4" font-weight="bold" text-anchor="start" fill="#000" textLength="62.5" lengthAdjust="spacingAndGlyphs" >Akt tg Rpl22+/-</text>
<line x1="306.2" y1="293.2" x2="396.7" y2="293.2" stroke="#333" stroke-width="1.1" />
<line x1="405.6" y1="293.2" x2="512.5" y2="293.2" stroke="#333" stroke-width="1.1" />
<rect x="304.05" y="296.15000000000003" width="212.70000000000002" height="23.299999999999997" fill="#959595" stroke="#3a3a3a" stroke-width="1.1" />
<rect x="304.05" y="323.05" width="212.70000000000002" height="27.099999999999998" fill="#919191" stroke="#3a3a3a" stroke-width="1.1" />
<rect x="304.05" y="352.85" width="212.70000000000002" height="22.4" fill="#949494" stroke="#3a3a3a" stroke-width="1.1" />
<line x1="400.2" y1="284.5" x2="400.2" y2="376" stroke="#111" stroke-width="1" />
<rect x="409.80" y="305.60" width="9" height="2.8" rx="1.40" fill="#151515" opacity="0.4" filter="url(#b9)"/>
<rect x="425.35" y="303.25" width="16.5" height="6.5" rx="3.25" fill="#151515" opacity="0.95" filter="url(#b9)"/>
<rect x="446.95" y="304.30" width="18.5" height="6" rx="3.00" fill="#151515" opacity="0.95" filter="url(#b9)"/>
<rect x="470.80" y="305.60" width="15" height="2.8" rx="1.40" fill="#151515" opacity="0.35" filter="url(#b9)"/>
<rect x="494.55" y="302.00" width="18.5" height="6" rx="3.00" fill="#151515" opacity="0.95" filter="url(#b9)"/>
<rect x="426.10" y="299.00" width="15" height="5" rx="2.50" fill="#444" opacity="0.45" filter="url(#b15)"/>
<rect x="496.30" y="298.00" width="15" height="5" rx="2.50" fill="#444" opacity="0.45" filter="url(#b15)"/>
<rect x="448.70" y="300.00" width="15" height="4" rx="2.00" fill="#555" opacity="0.3" filter="url(#b15)"/>
<rect x="428.60" y="297.00" width="10" height="4" rx="2.00" fill="#333" opacity="0.3" filter="url(#b15)"/>
<rect x="468.00" y="298.00" width="12" height="8" rx="3.00" fill="#aaa" opacity="0.35" filter="url(#b20)"/>
<rect x="415.00" y="298.00" width="10" height="10" rx="2.50" fill="#a5a5a5" opacity="0.3" filter="url(#b20)"/>
<rect x="308.70" y="334.90" width="15" height="3.4" rx="1.70" fill="#151515" opacity="0.8" filter="url(#b8)"/>
<rect x="330.00" y="335.60" width="16" height="2" rx="1.00" fill="#151515" opacity="0.35" filter="url(#b8)"/>
<rect x="355.65" y="335.20" width="15.5" height="2.8" rx="1.40" fill="#151515" opacity="0.5" filter="url(#b8)"/>
<rect x="378.85" y="335.50" width="13.5" height="2.2" rx="1.10" fill="#151515" opacity="0.4" filter="url(#b8)"/>
<rect x="402.25" y="334.60" width="16.5" height="4" rx="2.00" fill="#151515" opacity="0.85" filter="url(#b8)"/>
<rect x="426.40" y="333.80" width="16" height="5.6" rx="2.80" fill="#151515" opacity="1.0" filter="url(#b8)"/>
<rect x="450.70" y="335.50" width="13" height="2.2" rx="1.10" fill="#151515" opacity="0.3" filter="url(#b8)"/>
<rect x="472.85" y="334.50" width="17.5" height="4.2" rx="2.10" fill="#151515" opacity="0.9" filter="url(#b8)"/>
<rect x="496.15" y="334.30" width="18.5" height="4.6" rx="2.30" fill="#151515" opacity="0.95" filter="url(#b8)"/>
<rect x="305.65" y="361.70" width="20.5" height="4.6" rx="2.30" fill="#222" opacity="0.88" filter="url(#b8)"/>
<rect x="330.00" y="361.70" width="20" height="4.6" rx="2.30" fill="#222" opacity="0.88" filter="url(#b8)"/>
<rect x="355.45" y="361.70" width="19.5" height="4.6" rx="2.30" fill="#222" opacity="0.88" filter="url(#b8)"/>
<rect x="378.75" y="361.70" width="17.5" height="4.6" rx="2.30" fill="#222" opacity="0.88" filter="url(#b8)"/>
<rect x="401.50" y="361.70" width="19" height="4.6" rx="2.30" fill="#222" opacity="0.88" filter="url(#b8)"/>
<rect x="425.75" y="361.70" width="17.5" height="4.6" rx="2.30" fill="#222" opacity="0.88" filter="url(#b8)"/>
<rect x="447.20" y="361.70" width="19" height="4.6" rx="2.30" fill="#222" opacity="0.88" filter="url(#b8)"/>
<rect x="471.50" y="361.70" width="19" height="4.6" rx="2.30" fill="#222" opacity="0.88" filter="url(#b8)"/>
<rect x="495.70" y="361.70" width="19" height="4.6" rx="2.30" fill="#222" opacity="0.88" filter="url(#b8)"/>
<text x="271.8" y="308.6" font-size="8.4" font-weight="bold" text-anchor="start" fill="#000" textLength="28.5" lengthAdjust="spacingAndGlyphs" >Lin28B</text>
<text x="273.6" y="337.4" font-size="8.4" font-weight="bold" text-anchor="start" fill="#000" textLength="25.5" lengthAdjust="spacingAndGlyphs" >c-myc</text>
<text x="269.4" y="371" font-size="8.4" font-weight="bold" text-anchor="start" fill="#000" textLength="31.8" lengthAdjust="spacingAndGlyphs" >GAPDH</text>
<text x="4" y="436.3" font-size="16.5" font-weight="bold" text-anchor="start" fill="#000" >E</text>
<text x="160.6" y="438.3" font-size="8.1" font-weight="bold" text-anchor="start" fill="#000" textLength="84" lengthAdjust="spacingAndGlyphs" >Human T-ALL cell line</text>
<line x1="63.5" y1="445" x2="63.5" y2="637" stroke="#a3a3a3" stroke-width="1" />
<line x1="63.5" y1="524.5" x2="386.2" y2="524.5" stroke="#a3a3a3" stroke-width="1" />
<line x1="61.5" y1="558.1" x2="63.5" y2="558.1" stroke="#999" stroke-width="0.8" />
<text x="57" y="560.7" font-size="8.2" font-weight="normal" text-anchor="end" fill="#222" textLength="9.3" lengthAdjust="spacingAndGlyphs" >-6</text>
<line x1="61.5" y1="546.9" x2="63.5" y2="546.9" stroke="#999" stroke-width="0.8" />
<text x="57" y="549.5" font-size="8.2" font-weight="normal" text-anchor="end" fill="#222" textLength="9.3" lengthAdjust="spacingAndGlyphs" >-4</text>
<line x1="61.5" y1="535.7" x2="63.5" y2="535.7" stroke="#999" stroke-width="0.8" />
<text x="57" y="538.3000000000001" font-size="8.2" font-weight="normal" text-anchor="end" fill="#222" textLength="9.3" lengthAdjust="spacingAndGlyphs" >-2</text>
<line x1="61.5" y1="524.5" x2="63.5" y2="524.5" stroke="#999" stroke-width="0.8" />
<text x="57" y="527.1" font-size="8.2" font-weight="normal" text-anchor="end" fill="#222" textLength="4.8" lengthAdjust="spacingAndGlyphs" >0</text>
<line x1="61.5" y1="513.3" x2="63.5" y2="513.3" stroke="#999" stroke-width="0.8" />
<text x="57" y="515.9" font-size="8.2" font-weight="normal" text-anchor="end" fill="#222" textLength="4.8" lengthAdjust="spacingAndGlyphs" >2</text>
<line x1="61.5" y1="502.1" x2="63.5" y2="502.1" stroke="#999" stroke-width="0.8" />
<text x="57" y="504.70000000000005" font-size="8.2" font-weight="normal" text-anchor="end" fill="#222" textLength="4.8" lengthAdjust="spacingAndGlyphs" >4</text>
<line x1="61.5" y1="490.9" x2="63.5" y2="490.9" stroke="#999" stroke-width="0.8" />
<text x="57" y="493.5" font-size="8.2" font-weight="normal" text-anchor="end" fill="#222" textLength="4.8" lengthAdjust="spacingAndGlyphs" >6</text>
<line x1="61.5" y1="479.7" x2="63.5" y2="479.7" stroke="#999" stroke-width="0.8" />
<text x="57" y="482.3" font-size="8.2" font-weight="normal" text-anchor="end" fill="#222" textLength="4.8" lengthAdjust="spacingAndGlyphs" >8</text>
<line x1="61.5" y1="468.5" x2="63.5" y2="468.5" stroke="#999" stroke-width="0.8" />
<text x="57" y="471.1" font-size="8.2" font-weight="normal" text-anchor="end" fill="#222" textLength="9.3" lengthAdjust="spacingAndGlyphs" >10</text>
<line x1="61.5" y1="457.3" x2="63.5" y2="457.3" stroke="#999" stroke-width="0.8" />
<text x="57" y="459.90000000000003" font-size="8.2" font-weight="normal" text-anchor="end" fill="#222" textLength="9.3" lengthAdjust="spacingAndGlyphs" >12</text>
<line x1="61.5" y1="446.1" x2="63.5" y2="446.1" stroke="#999" stroke-width="0.8" />
<text x="57" y="448.70000000000005" font-size="8.2" font-weight="normal" text-anchor="end" fill="#222" textLength="9.3" lengthAdjust="spacingAndGlyphs" >14</text>
<line x1="88.5" y1="524.5" x2="88.5" y2="527.5" stroke="#999" stroke-width="0.7" />
<line x1="113.5" y1="524.5" x2="113.5" y2="527.5" stroke="#999" stroke-width="0.7" />
<line x1="138.5" y1="524.5" x2="138.5" y2="527.5" stroke="#999" stroke-width="0.7" />
<line x1="163.5" y1="524.5" x2="163.5" y2="527.5" stroke="#999" stroke-width="0.7" />
<line x1="187.5" y1="524.5" x2="187.5" y2="527.5" stroke="#999" stroke-width="0.7" />
<line x1="212.5" y1="524.5" x2="212.5" y2="527.5" stroke="#999" stroke-width="0.7" />
<line x1="237.5" y1="524.5" x2="237.5" y2="527.5" stroke="#999" stroke-width="0.7" />
<line x1="262.5" y1="524.5" x2="262.5" y2="527.5" stroke="#999" stroke-width="0.7" />
<line x1="287.5" y1="524.5" x2="287.5" y2="527.5" stroke="#999" stroke-width="0.7" />
<line x1="311.5" y1="524.5" x2="311.5" y2="527.5" stroke="#999" stroke-width="0.7" />
<line x1="336.5" y1="524.5" x2="336.5" y2="527.5" stroke="#999" stroke-width="0.7" />
<line x1="361.5" y1="524.5" x2="361.5" y2="527.5" stroke="#999" stroke-width="0.7" />
<line x1="386.5" y1="524.5" x2="386.5" y2="527.5" stroke="#999" stroke-width="0.7" />
<rect x="96.25" y="524.5" width="10.1" height="19.32000000000005" fill="#a9a9a9" stroke="#444" stroke-width="0.7" />
<rect x="120.95" y="524.5" width="10.1" height="19.32000000000005" fill="#a9a9a9" stroke="#444" stroke-width="0.7" />
<rect x="145.75" y="524.5" width="10.1" height="12.600000000000023" fill="#a9a9a9" stroke="#444" stroke-width="0.7" />
<rect x="170.75" y="469.34000000000003" width="10.1" height="55.15999999999997" fill="#a9a9a9" stroke="#444" stroke-width="0.7" />
<rect x="195.35" y="467.94" width="10.1" height="56.56" fill="#a9a9a9" stroke="#444" stroke-width="0.7" />
<rect x="220.04999999999998" y="452.54" width="10.1" height="71.95999999999998" fill="#a9a9a9" stroke="#444" stroke-width="0.7" />
<rect x="244.75" y="458.7" width="10.1" height="65.80000000000001" fill="#222" stroke="#1a1a1a" stroke-width="0.5" />
<rect x="269.34999999999997" y="460.94" width="10.1" height="63.56" fill="#222" stroke="#1a1a1a" stroke-width="0.5" />
<rect x="294.15" y="520.02" width="10.1" height="4.480000000000018" fill="#222" stroke="#1a1a1a" stroke-width="0.5" />
<rect x="318.95" y="464.58" width="10.1" height="59.920000000000016" fill="#222" stroke="#1a1a1a" stroke-width="0.5" />
<rect x="343.65" y="479.98" width="10.1" height="44.51999999999998" fill="#222" stroke="#1a1a1a" stroke-width="0.5" />
<rect x="368.34999999999997" y="463.46" width="10.1" height="61.04000000000002" fill="#222" stroke="#1a1a1a" stroke-width="0.5" />
<line x1="76.4" y1="521.8" x2="76.4" y2="527.2" stroke="#333" stroke-width="0.7" />
<line x1="74.60000000000001" y1="521.8" x2="78.2" y2="521.8" stroke="#333" stroke-width="0.7" />
<line x1="74.60000000000001" y1="527.2" x2="78.2" y2="527.2" stroke="#333" stroke-width="0.7" />
<line x1="150.8" y1="531" x2="150.8" y2="543.8" stroke="#333" stroke-width="0.7" />
<line x1="149.0" y1="531" x2="152.60000000000002" y2="531" stroke="#333" stroke-width="0.7" />
<line x1="149.0" y1="543.8" x2="152.60000000000002" y2="543.8" stroke="#333" stroke-width="0.7" />
<line x1="299.2" y1="516.5" x2="299.2" y2="520" stroke="#333" stroke-width="0.7" />
<line x1="297.4" y1="516.5" x2="301.0" y2="516.5" stroke="#333" stroke-width="0.7" />
<line x1="297.4" y1="520" x2="301.0" y2="520" stroke="#333" stroke-width="0.7" />
<line x1="101.3" y1="543.3" x2="101.3" y2="544.2" stroke="#333" stroke-width="0.7" />
<line x1="99.8" y1="543.3" x2="102.8" y2="543.3" stroke="#333" stroke-width="0.7" />
<line x1="99.8" y1="544.2" x2="102.8" y2="544.2" stroke="#333" stroke-width="0.7" />
<line x1="175.8" y1="468.3" x2="175.8" y2="469.5" stroke="#333" stroke-width="0.7" />
<line x1="174.3" y1="468.3" x2="177.3" y2="468.3" stroke="#333" stroke-width="0.7" />
<line x1="174.3" y1="469.5" x2="177.3" y2="469.5" stroke="#333" stroke-width="0.7" />
<line x1="200.4" y1="466.8" x2="200.4" y2="468.2" stroke="#333" stroke-width="0.7" />
<line x1="198.9" y1="466.8" x2="201.9" y2="466.8" stroke="#333" stroke-width="0.7" />
<line x1="198.9" y1="468.2" x2="201.9" y2="468.2" stroke="#333" stroke-width="0.7" />
<line x1="225.1" y1="451.5" x2="225.1" y2="453.2" stroke="#333" stroke-width="0.7" />
<line x1="223.6" y1="451.5" x2="226.6" y2="451.5" stroke="#333" stroke-width="0.7" />
<line x1="223.6" y1="453.2" x2="226.6" y2="453.2" stroke="#333" stroke-width="0.7" />
<line x1="249.8" y1="457.7" x2="249.8" y2="459.2" stroke="#333" stroke-width="0.7" />
<line x1="248.3" y1="457.7" x2="251.3" y2="457.7" stroke="#333" stroke-width="0.7" />
<line x1="248.3" y1="459.2" x2="251.3" y2="459.2" stroke="#333" stroke-width="0.7" />
<line x1="274.4" y1="460" x2="274.4" y2="461.5" stroke="#333" stroke-width="0.7" />
<line x1="272.9" y1="460" x2="275.9" y2="460" stroke="#333" stroke-width="0.7" />
<line x1="272.9" y1="461.5" x2="275.9" y2="461.5" stroke="#333" stroke-width="0.7" />
<line x1="324" y1="463.8" x2="324" y2="465.2" stroke="#333" stroke-width="0.7" />
<line x1="322.5" y1="463.8" x2="325.5" y2="463.8" stroke="#333" stroke-width="0.7" />
<line x1="322.5" y1="465.2" x2="325.5" y2="465.2" stroke="#333" stroke-width="0.7" />
<line x1="348.7" y1="478.6" x2="348.7" y2="479.8" stroke="#333" stroke-width="0.7" />
<line x1="347.2" y1="478.6" x2="350.2" y2="478.6" stroke="#333" stroke-width="0.7" />
<line x1="347.2" y1="479.8" x2="350.2" y2="479.8" stroke="#333" stroke-width="0.7" />
<line x1="373.4" y1="462.2" x2="373.4" y2="463.8" stroke="#333" stroke-width="0.7" />
<line x1="371.9" y1="462.2" x2="374.9" y2="462.2" stroke="#333" stroke-width="0.7" />
<line x1="371.9" y1="463.8" x2="374.9" y2="463.8" stroke="#333" stroke-width="0.7" />
<text x="79.60000000000001" y="565" font-size="8.6" font-weight="normal" text-anchor="end" fill="#222" transform="rotate(-90 79.60000000000001 565)" >jurkat</text>
<text x="104.5" y="565" font-size="8.6" font-weight="normal" text-anchor="end" fill="#222" transform="rotate(-90 104.5 565)" >TALL 1</text>
<text x="129.2" y="565" font-size="8.6" font-weight="normal" text-anchor="end" fill="#222" transform="rotate(-90 129.2 565)" >supt13</text>
<text x="154.0" y="565" font-size="8.6" font-weight="normal" text-anchor="end" fill="#222" transform="rotate(-90 154.0 565)" >Rpmi 8402</text>
<text x="179.0" y="565" font-size="8.6" font-weight="normal" text-anchor="end" fill="#222" transform="rotate(-90 179.0 565)" >pf382</text>
<text x="203.6" y="565" font-size="8.6" font-weight="normal" text-anchor="end" fill="#222" transform="rotate(-90 203.6 565)" >BE13</text>
<text x="228.29999999999998" y="565" font-size="8.6" font-weight="normal" text-anchor="end" fill="#222" transform="rotate(-90 228.29999999999998 565)" >All-sil</text>
<text x="253.0" y="565" font-size="8.6" font-weight="normal" text-anchor="end" fill="#222" transform="rotate(-90 253.0 565)" >Dnd 41</text>
<text x="277.59999999999997" y="565" font-size="8.6" font-weight="normal" text-anchor="end" fill="#222" transform="rotate(-90 277.59999999999997 565)" >koptk 1</text>
<text x="302.4" y="565" font-size="8.6" font-weight="normal" text-anchor="end" fill="#222" transform="rotate(-90 302.4 565)" >molt13</text>
<text x="327.2" y="565" font-size="8.6" font-weight="normal" text-anchor="end" fill="#222" transform="rotate(-90 327.2 565)" >CEM</text>
<text x="351.9" y="565" font-size="8.6" font-weight="normal" text-anchor="end" fill="#222" transform="rotate(-90 351.9 565)" >splt7</text>
<text x="376.59999999999997" y="565" font-size="8.6" font-weight="normal" text-anchor="end" fill="#222" transform="rotate(-90 376.59999999999997 565)" >Molt16</text>
<line x1="88.5" y1="557.8" x2="88.5" y2="637" stroke="#a0a0a0" stroke-width="1" />
<line x1="113.5" y1="557.8" x2="113.5" y2="611.7" stroke="#a0a0a0" stroke-width="1" />
<line x1="138.5" y1="557.8" x2="138.5" y2="611.7" stroke="#a0a0a0" stroke-width="1" />
<line x1="163.5" y1="557.8" x2="163.5" y2="611.7" stroke="#a0a0a0" stroke-width="1" />
<line x1="187.5" y1="557.8" x2="187.5" y2="611.7" stroke="#a0a0a0" stroke-width="1" />
<line x1="212.5" y1="557.8" x2="212.5" y2="611.7" stroke="#a0a0a0" stroke-width="1" />
<line x1="237.5" y1="557.8" x2="237.5" y2="637" stroke="#a0a0a0" stroke-width="1" />
<line x1="262.5" y1="557.8" x2="262.5" y2="611.7" stroke="#a0a0a0" stroke-width="1" />
<line x1="287.5" y1="557.8" x2="287.5" y2="611.7" stroke="#a0a0a0" stroke-width="1" />
<line x1="311.5" y1="557.8" x2="311.5" y2="611.7" stroke="#a0a0a0" stroke-width="1" />
<line x1="336.5" y1="557.8" x2="336.5" y2="611.7" stroke="#a0a0a0" stroke-width="1" />
<line x1="361.5" y1="557.8" x2="361.5" y2="611.7" stroke="#a0a0a0" stroke-width="1" />
<line x1="386.5" y1="557.8" x2="386.5" y2="637" stroke="#a0a0a0" stroke-width="1" />
<text x="63.5" y="627.6" font-size="8.6" font-weight="normal" text-anchor="start" fill="#222" textLength="24.2" lengthAdjust="spacingAndGlyphs" >control</text>
<text x="144.8" y="627.6" font-size="8.6" font-weight="normal" text-anchor="start" fill="#222" textLength="37" lengthAdjust="spacingAndGlyphs" >Rpl22 WT</text>
<text x="290" y="627.6" font-size="8.6" font-weight="normal" text-anchor="start" fill="#222" textLength="43" lengthAdjust="spacingAndGlyphs" >Rpl22 MUT</text>
<text x="28.1" y="513.3" font-size="10" font-weight="bold" text-anchor="middle" fill="#000" textLength="109" lengthAdjust="spacingAndGlyphs" transform="rotate(-90 28.1 513.3)" >Relative Lin28B mRNA</text>
<text x="39.3" y="513.8" font-size="8.5" font-weight="bold" text-anchor="middle" fill="#000" textLength="64" lengthAdjust="spacingAndGlyphs" transform="rotate(-90 39.3 513.8)" >levels (Log 2)</text>
</svg>
</body></html>
